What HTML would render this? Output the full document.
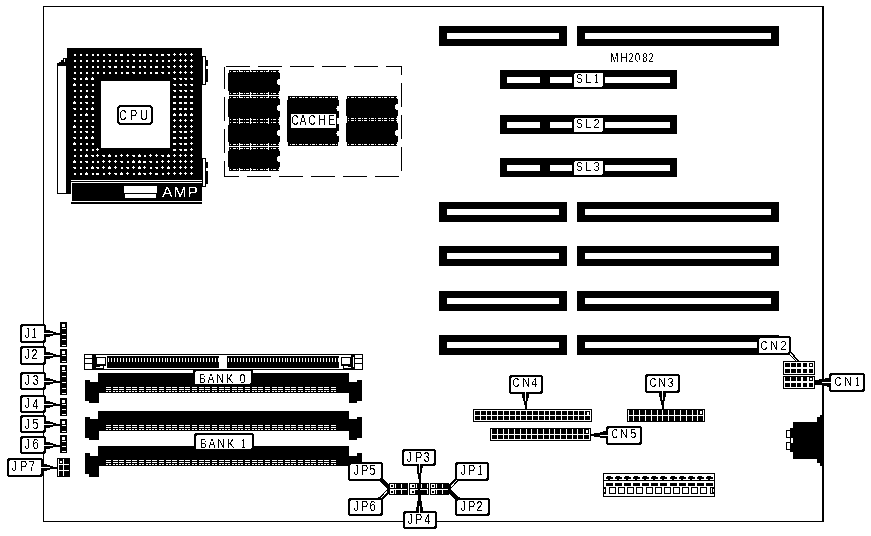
<!DOCTYPE html><html><head><meta charset="utf-8"><style>
html,body{margin:0;padding:0;background:#fff;width:871px;height:536px;overflow:hidden}
svg{display:block;font-family:"Liberation Sans",sans-serif}
</style></head><body>
<svg width="871" height="536" viewBox="0 0 871 536">
<g shape-rendering="crispEdges">
<rect x="43" y="6" width="781" height="1" fill="#000"/>
<rect x="43" y="6" width="1" height="516" fill="#000"/>
<rect x="43" y="521" width="781" height="1" fill="#000"/>
<rect x="822" y="6" width="2" height="516" fill="#000"/>
<rect x="57" y="64" width="10" height="130" fill="#000"/>
<rect x="58" y="66" width="8" height="127" fill="#fff"/>
<rect x="57" y="63" width="3" height="2" fill="#000"/>
<rect x="59" y="62" width="3" height="2" fill="#000"/>
<rect x="61" y="60" width="3" height="4" fill="#000"/>
<rect x="63" y="58" width="4" height="6" fill="#000"/>
<rect x="64" y="59" width="1" height="3" fill="#fff"/>
<rect x="66" y="58" width="1" height="136" fill="#000"/>
<rect x="67" y="48" width="4" height="146" fill="#000"/>
<rect x="67" y="48" width="135" height="132" fill="#000"/>
<rect x="101" y="81" width="69" height="67" fill="#fff"/>
<rect x="74" y="54" width="2" height="2" fill="#fff"/>
<rect x="80" y="54" width="2" height="2" fill="#fff"/>
<rect x="86" y="54" width="2" height="2" fill="#fff"/>
<rect x="92" y="54" width="2" height="2" fill="#fff"/>
<rect x="97" y="54" width="2" height="2" fill="#fff"/>
<rect x="103" y="54" width="2" height="2" fill="#fff"/>
<rect x="108" y="54" width="3" height="1" fill="#fff"/>
<rect x="109" y="55" width="2" height="1" fill="#fff"/>
<rect x="115" y="54" width="2" height="2" fill="#fff"/>
<rect x="120" y="54" width="3" height="2" fill="#fff"/>
<rect x="127" y="54" width="2" height="2" fill="#fff"/>
<rect x="132" y="54" width="3" height="1" fill="#fff"/>
<rect x="133" y="55" width="2" height="1" fill="#fff"/>
<rect x="139" y="54" width="2" height="2" fill="#fff"/>
<rect x="143" y="54" width="3" height="2" fill="#fff"/>
<rect x="149" y="54" width="3" height="1" fill="#fff"/>
<rect x="150" y="55" width="2" height="1" fill="#fff"/>
<rect x="156" y="54" width="2" height="2" fill="#fff"/>
<rect x="161" y="54" width="3" height="2" fill="#fff"/>
<rect x="167" y="54" width="3" height="1" fill="#fff"/>
<rect x="168" y="55" width="2" height="1" fill="#fff"/>
<rect x="173" y="54" width="3" height="1" fill="#fff"/>
<rect x="174" y="53" width="1" height="3" fill="#fff"/>
<rect x="179" y="54" width="3" height="1" fill="#fff"/>
<rect x="180" y="53" width="1" height="3" fill="#fff"/>
<rect x="184" y="54" width="3" height="1" fill="#fff"/>
<rect x="185" y="53" width="1" height="3" fill="#fff"/>
<rect x="190" y="54" width="3" height="1" fill="#fff"/>
<rect x="191" y="53" width="1" height="3" fill="#fff"/>
<rect x="74" y="60" width="2" height="2" fill="#fff"/>
<rect x="80" y="60" width="2" height="2" fill="#fff"/>
<rect x="86" y="60" width="2" height="2" fill="#fff"/>
<rect x="92" y="60" width="2" height="2" fill="#fff"/>
<rect x="97" y="60" width="2" height="2" fill="#fff"/>
<rect x="103" y="60" width="2" height="2" fill="#fff"/>
<rect x="109" y="60" width="2" height="2" fill="#fff"/>
<rect x="115" y="60" width="2" height="2" fill="#fff"/>
<rect x="121" y="60" width="2" height="2" fill="#fff"/>
<rect x="127" y="60" width="2" height="2" fill="#fff"/>
<rect x="133" y="60" width="2" height="2" fill="#fff"/>
<rect x="139" y="60" width="2" height="2" fill="#fff"/>
<rect x="144" y="60" width="2" height="2" fill="#fff"/>
<rect x="150" y="60" width="2" height="2" fill="#fff"/>
<rect x="156" y="60" width="2" height="2" fill="#fff"/>
<rect x="162" y="60" width="2" height="2" fill="#fff"/>
<rect x="168" y="60" width="2" height="2" fill="#fff"/>
<rect x="173" y="60" width="3" height="1" fill="#fff"/>
<rect x="174" y="59" width="1" height="3" fill="#fff"/>
<rect x="179" y="60" width="3" height="1" fill="#fff"/>
<rect x="180" y="59" width="1" height="3" fill="#fff"/>
<rect x="184" y="60" width="3" height="1" fill="#fff"/>
<rect x="185" y="59" width="1" height="3" fill="#fff"/>
<rect x="190" y="60" width="3" height="1" fill="#fff"/>
<rect x="191" y="59" width="1" height="3" fill="#fff"/>
<rect x="74" y="66" width="2" height="2" fill="#fff"/>
<rect x="80" y="66" width="2" height="2" fill="#fff"/>
<rect x="86" y="66" width="2" height="2" fill="#fff"/>
<rect x="92" y="66" width="2" height="2" fill="#fff"/>
<rect x="97" y="66" width="2" height="2" fill="#fff"/>
<rect x="103" y="66" width="2" height="2" fill="#fff"/>
<rect x="108" y="66" width="3" height="1" fill="#fff"/>
<rect x="109" y="67" width="2" height="1" fill="#fff"/>
<rect x="114" y="66" width="3" height="2" fill="#fff"/>
<rect x="121" y="66" width="2" height="2" fill="#fff"/>
<rect x="126" y="66" width="3" height="1" fill="#fff"/>
<rect x="127" y="67" width="2" height="1" fill="#fff"/>
<rect x="132" y="66" width="3" height="2" fill="#fff"/>
<rect x="139" y="66" width="2" height="2" fill="#fff"/>
<rect x="143" y="66" width="3" height="1" fill="#fff"/>
<rect x="144" y="67" width="2" height="1" fill="#fff"/>
<rect x="150" y="66" width="2" height="2" fill="#fff"/>
<rect x="155" y="66" width="3" height="2" fill="#fff"/>
<rect x="162" y="66" width="2" height="2" fill="#fff"/>
<rect x="167" y="66" width="3" height="1" fill="#fff"/>
<rect x="168" y="67" width="2" height="1" fill="#fff"/>
<rect x="173" y="66" width="3" height="1" fill="#fff"/>
<rect x="174" y="65" width="1" height="3" fill="#fff"/>
<rect x="179" y="66" width="3" height="1" fill="#fff"/>
<rect x="180" y="65" width="1" height="3" fill="#fff"/>
<rect x="184" y="66" width="3" height="1" fill="#fff"/>
<rect x="185" y="65" width="1" height="3" fill="#fff"/>
<rect x="190" y="66" width="3" height="1" fill="#fff"/>
<rect x="191" y="65" width="1" height="3" fill="#fff"/>
<rect x="74" y="72" width="2" height="2" fill="#fff"/>
<rect x="80" y="72" width="2" height="2" fill="#fff"/>
<rect x="86" y="72" width="2" height="2" fill="#fff"/>
<rect x="92" y="72" width="2" height="2" fill="#fff"/>
<rect x="97" y="72" width="2" height="2" fill="#fff"/>
<rect x="103" y="72" width="2" height="2" fill="#fff"/>
<rect x="109" y="72" width="2" height="2" fill="#fff"/>
<rect x="115" y="72" width="2" height="2" fill="#fff"/>
<rect x="121" y="72" width="2" height="2" fill="#fff"/>
<rect x="126" y="72" width="3" height="2" fill="#fff"/>
<rect x="132" y="72" width="3" height="1" fill="#fff"/>
<rect x="133" y="73" width="2" height="1" fill="#fff"/>
<rect x="139" y="72" width="2" height="2" fill="#fff"/>
<rect x="144" y="72" width="2" height="2" fill="#fff"/>
<rect x="150" y="72" width="2" height="2" fill="#fff"/>
<rect x="155" y="72" width="3" height="2" fill="#fff"/>
<rect x="161" y="72" width="3" height="1" fill="#fff"/>
<rect x="162" y="73" width="2" height="1" fill="#fff"/>
<rect x="168" y="72" width="2" height="2" fill="#fff"/>
<rect x="173" y="72" width="3" height="1" fill="#fff"/>
<rect x="174" y="71" width="1" height="3" fill="#fff"/>
<rect x="179" y="72" width="3" height="1" fill="#fff"/>
<rect x="180" y="71" width="1" height="3" fill="#fff"/>
<rect x="184" y="72" width="3" height="1" fill="#fff"/>
<rect x="185" y="71" width="1" height="3" fill="#fff"/>
<rect x="190" y="72" width="3" height="1" fill="#fff"/>
<rect x="191" y="71" width="1" height="3" fill="#fff"/>
<rect x="73" y="78" width="3" height="1" fill="#fff"/>
<rect x="74" y="79" width="2" height="1" fill="#fff"/>
<rect x="80" y="78" width="2" height="2" fill="#fff"/>
<rect x="86" y="77" width="1" height="1" fill="#fff"/>
<rect x="85" y="78" width="3" height="2" fill="#fff"/>
<rect x="92" y="77" width="1" height="1" fill="#fff"/>
<rect x="91" y="78" width="3" height="2" fill="#fff"/>
<rect x="173" y="78" width="3" height="1" fill="#fff"/>
<rect x="174" y="79" width="2" height="1" fill="#fff"/>
<rect x="179" y="78" width="3" height="1" fill="#fff"/>
<rect x="180" y="79" width="2" height="1" fill="#fff"/>
<rect x="184" y="78" width="3" height="1" fill="#fff"/>
<rect x="185" y="79" width="2" height="1" fill="#fff"/>
<rect x="190" y="78" width="3" height="1" fill="#fff"/>
<rect x="191" y="79" width="2" height="1" fill="#fff"/>
<rect x="74" y="83" width="1" height="1" fill="#fff"/>
<rect x="73" y="84" width="3" height="2" fill="#fff"/>
<rect x="80" y="84" width="2" height="2" fill="#fff"/>
<rect x="86" y="84" width="2" height="2" fill="#fff"/>
<rect x="92" y="84" width="2" height="2" fill="#fff"/>
<rect x="173" y="84" width="3" height="1" fill="#fff"/>
<rect x="174" y="85" width="2" height="1" fill="#fff"/>
<rect x="179" y="84" width="3" height="1" fill="#fff"/>
<rect x="180" y="85" width="2" height="1" fill="#fff"/>
<rect x="184" y="84" width="3" height="1" fill="#fff"/>
<rect x="185" y="85" width="2" height="1" fill="#fff"/>
<rect x="190" y="84" width="3" height="1" fill="#fff"/>
<rect x="191" y="85" width="2" height="1" fill="#fff"/>
<rect x="74" y="90" width="2" height="2" fill="#fff"/>
<rect x="80" y="90" width="2" height="2" fill="#fff"/>
<rect x="86" y="90" width="2" height="2" fill="#fff"/>
<rect x="92" y="90" width="2" height="2" fill="#fff"/>
<rect x="173" y="90" width="3" height="1" fill="#fff"/>
<rect x="174" y="91" width="2" height="1" fill="#fff"/>
<rect x="179" y="90" width="3" height="1" fill="#fff"/>
<rect x="180" y="91" width="2" height="1" fill="#fff"/>
<rect x="184" y="90" width="3" height="1" fill="#fff"/>
<rect x="185" y="91" width="2" height="1" fill="#fff"/>
<rect x="190" y="90" width="3" height="1" fill="#fff"/>
<rect x="191" y="91" width="2" height="1" fill="#fff"/>
<rect x="74" y="96" width="2" height="2" fill="#fff"/>
<rect x="80" y="96" width="2" height="2" fill="#fff"/>
<rect x="86" y="95" width="1" height="1" fill="#fff"/>
<rect x="85" y="96" width="3" height="2" fill="#fff"/>
<rect x="91" y="96" width="3" height="1" fill="#fff"/>
<rect x="92" y="97" width="2" height="1" fill="#fff"/>
<rect x="173" y="96" width="3" height="2" fill="#fff"/>
<rect x="179" y="96" width="3" height="2" fill="#fff"/>
<rect x="184" y="96" width="3" height="2" fill="#fff"/>
<rect x="190" y="96" width="3" height="2" fill="#fff"/>
<rect x="74" y="101" width="1" height="1" fill="#fff"/>
<rect x="73" y="102" width="3" height="2" fill="#fff"/>
<rect x="80" y="102" width="2" height="2" fill="#fff"/>
<rect x="85" y="102" width="3" height="1" fill="#fff"/>
<rect x="86" y="103" width="2" height="1" fill="#fff"/>
<rect x="92" y="102" width="2" height="2" fill="#fff"/>
<rect x="173" y="102" width="3" height="2" fill="#fff"/>
<rect x="179" y="102" width="3" height="2" fill="#fff"/>
<rect x="184" y="102" width="3" height="2" fill="#fff"/>
<rect x="190" y="102" width="3" height="2" fill="#fff"/>
<rect x="73" y="108" width="3" height="1" fill="#fff"/>
<rect x="74" y="109" width="2" height="1" fill="#fff"/>
<rect x="80" y="108" width="2" height="2" fill="#fff"/>
<rect x="86" y="108" width="2" height="2" fill="#fff"/>
<rect x="92" y="107" width="1" height="1" fill="#fff"/>
<rect x="91" y="108" width="3" height="2" fill="#fff"/>
<rect x="173" y="108" width="3" height="2" fill="#fff"/>
<rect x="179" y="108" width="3" height="2" fill="#fff"/>
<rect x="184" y="108" width="3" height="2" fill="#fff"/>
<rect x="190" y="108" width="3" height="2" fill="#fff"/>
<rect x="74" y="114" width="2" height="2" fill="#fff"/>
<rect x="80" y="114" width="2" height="2" fill="#fff"/>
<rect x="86" y="113" width="1" height="1" fill="#fff"/>
<rect x="85" y="114" width="3" height="2" fill="#fff"/>
<rect x="92" y="114" width="2" height="2" fill="#fff"/>
<rect x="174" y="113" width="1" height="1" fill="#fff"/>
<rect x="173" y="114" width="3" height="2" fill="#fff"/>
<rect x="180" y="113" width="1" height="1" fill="#fff"/>
<rect x="179" y="114" width="3" height="2" fill="#fff"/>
<rect x="185" y="113" width="1" height="1" fill="#fff"/>
<rect x="184" y="114" width="3" height="2" fill="#fff"/>
<rect x="191" y="113" width="1" height="1" fill="#fff"/>
<rect x="190" y="114" width="3" height="2" fill="#fff"/>
<rect x="74" y="120" width="2" height="2" fill="#fff"/>
<rect x="80" y="120" width="2" height="2" fill="#fff"/>
<rect x="86" y="120" width="2" height="2" fill="#fff"/>
<rect x="92" y="120" width="2" height="2" fill="#fff"/>
<rect x="173" y="120" width="3" height="1" fill="#fff"/>
<rect x="174" y="119" width="1" height="3" fill="#fff"/>
<rect x="179" y="120" width="3" height="1" fill="#fff"/>
<rect x="180" y="119" width="1" height="3" fill="#fff"/>
<rect x="184" y="120" width="3" height="1" fill="#fff"/>
<rect x="185" y="119" width="1" height="3" fill="#fff"/>
<rect x="190" y="120" width="3" height="1" fill="#fff"/>
<rect x="191" y="119" width="1" height="3" fill="#fff"/>
<rect x="74" y="125" width="1" height="1" fill="#fff"/>
<rect x="73" y="126" width="3" height="2" fill="#fff"/>
<rect x="80" y="126" width="2" height="2" fill="#fff"/>
<rect x="86" y="126" width="2" height="2" fill="#fff"/>
<rect x="91" y="126" width="3" height="1" fill="#fff"/>
<rect x="92" y="127" width="2" height="1" fill="#fff"/>
<rect x="173" y="126" width="3" height="1" fill="#fff"/>
<rect x="174" y="125" width="1" height="3" fill="#fff"/>
<rect x="179" y="126" width="3" height="1" fill="#fff"/>
<rect x="180" y="125" width="1" height="3" fill="#fff"/>
<rect x="184" y="126" width="3" height="1" fill="#fff"/>
<rect x="185" y="125" width="1" height="3" fill="#fff"/>
<rect x="190" y="126" width="3" height="1" fill="#fff"/>
<rect x="191" y="125" width="1" height="3" fill="#fff"/>
<rect x="74" y="131" width="2" height="2" fill="#fff"/>
<rect x="80" y="131" width="2" height="2" fill="#fff"/>
<rect x="85" y="131" width="3" height="1" fill="#fff"/>
<rect x="86" y="132" width="2" height="1" fill="#fff"/>
<rect x="92" y="131" width="2" height="2" fill="#fff"/>
<rect x="173" y="131" width="3" height="2" fill="#fff"/>
<rect x="179" y="131" width="3" height="1" fill="#fff"/>
<rect x="180" y="132" width="2" height="1" fill="#fff"/>
<rect x="184" y="131" width="3" height="2" fill="#fff"/>
<rect x="190" y="131" width="3" height="1" fill="#fff"/>
<rect x="191" y="130" width="1" height="3" fill="#fff"/>
<rect x="73" y="137" width="3" height="1" fill="#fff"/>
<rect x="74" y="138" width="2" height="1" fill="#fff"/>
<rect x="80" y="137" width="2" height="2" fill="#fff"/>
<rect x="86" y="136" width="1" height="1" fill="#fff"/>
<rect x="85" y="137" width="3" height="2" fill="#fff"/>
<rect x="92" y="136" width="1" height="1" fill="#fff"/>
<rect x="91" y="137" width="3" height="2" fill="#fff"/>
<rect x="173" y="137" width="3" height="2" fill="#fff"/>
<rect x="179" y="137" width="3" height="1" fill="#fff"/>
<rect x="180" y="138" width="2" height="1" fill="#fff"/>
<rect x="184" y="137" width="3" height="2" fill="#fff"/>
<rect x="190" y="137" width="3" height="1" fill="#fff"/>
<rect x="191" y="136" width="1" height="3" fill="#fff"/>
<rect x="74" y="142" width="1" height="1" fill="#fff"/>
<rect x="73" y="143" width="3" height="2" fill="#fff"/>
<rect x="80" y="143" width="2" height="2" fill="#fff"/>
<rect x="86" y="143" width="2" height="2" fill="#fff"/>
<rect x="92" y="143" width="2" height="2" fill="#fff"/>
<rect x="173" y="143" width="3" height="2" fill="#fff"/>
<rect x="179" y="143" width="3" height="1" fill="#fff"/>
<rect x="180" y="144" width="2" height="1" fill="#fff"/>
<rect x="184" y="143" width="3" height="2" fill="#fff"/>
<rect x="190" y="143" width="3" height="1" fill="#fff"/>
<rect x="191" y="142" width="1" height="3" fill="#fff"/>
<rect x="74" y="149" width="2" height="2" fill="#fff"/>
<rect x="80" y="149" width="2" height="2" fill="#fff"/>
<rect x="86" y="149" width="2" height="2" fill="#fff"/>
<rect x="92" y="149" width="2" height="2" fill="#fff"/>
<rect x="96" y="149" width="3" height="1" fill="#fff"/>
<rect x="97" y="148" width="1" height="3" fill="#fff"/>
<rect x="173" y="149" width="3" height="2" fill="#fff"/>
<rect x="179" y="149" width="3" height="1" fill="#fff"/>
<rect x="180" y="150" width="2" height="1" fill="#fff"/>
<rect x="184" y="149" width="3" height="2" fill="#fff"/>
<rect x="190" y="149" width="3" height="1" fill="#fff"/>
<rect x="191" y="148" width="1" height="3" fill="#fff"/>
<rect x="74" y="155" width="2" height="2" fill="#fff"/>
<rect x="80" y="155" width="2" height="2" fill="#fff"/>
<rect x="86" y="154" width="1" height="1" fill="#fff"/>
<rect x="85" y="155" width="3" height="2" fill="#fff"/>
<rect x="91" y="155" width="3" height="1" fill="#fff"/>
<rect x="92" y="156" width="2" height="1" fill="#fff"/>
<rect x="96" y="155" width="3" height="1" fill="#fff"/>
<rect x="97" y="154" width="1" height="3" fill="#fff"/>
<rect x="102" y="155" width="3" height="1" fill="#fff"/>
<rect x="103" y="156" width="2" height="1" fill="#fff"/>
<rect x="109" y="154" width="1" height="1" fill="#fff"/>
<rect x="108" y="155" width="3" height="2" fill="#fff"/>
<rect x="115" y="155" width="2" height="2" fill="#fff"/>
<rect x="120" y="155" width="3" height="1" fill="#fff"/>
<rect x="121" y="154" width="1" height="3" fill="#fff"/>
<rect x="126" y="155" width="3" height="1" fill="#fff"/>
<rect x="127" y="154" width="1" height="3" fill="#fff"/>
<rect x="132" y="155" width="3" height="1" fill="#fff"/>
<rect x="133" y="156" width="2" height="1" fill="#fff"/>
<rect x="139" y="154" width="1" height="1" fill="#fff"/>
<rect x="138" y="155" width="3" height="2" fill="#fff"/>
<rect x="144" y="155" width="2" height="2" fill="#fff"/>
<rect x="149" y="155" width="3" height="1" fill="#fff"/>
<rect x="150" y="154" width="1" height="3" fill="#fff"/>
<rect x="155" y="155" width="3" height="1" fill="#fff"/>
<rect x="156" y="154" width="1" height="3" fill="#fff"/>
<rect x="161" y="155" width="3" height="1" fill="#fff"/>
<rect x="162" y="156" width="2" height="1" fill="#fff"/>
<rect x="168" y="154" width="1" height="1" fill="#fff"/>
<rect x="167" y="155" width="3" height="2" fill="#fff"/>
<rect x="173" y="155" width="3" height="1" fill="#fff"/>
<rect x="174" y="154" width="1" height="3" fill="#fff"/>
<rect x="179" y="155" width="3" height="1" fill="#fff"/>
<rect x="180" y="154" width="1" height="3" fill="#fff"/>
<rect x="184" y="155" width="3" height="1" fill="#fff"/>
<rect x="185" y="154" width="1" height="3" fill="#fff"/>
<rect x="190" y="155" width="3" height="1" fill="#fff"/>
<rect x="191" y="154" width="1" height="3" fill="#fff"/>
<rect x="74" y="160" width="1" height="1" fill="#fff"/>
<rect x="73" y="161" width="3" height="2" fill="#fff"/>
<rect x="80" y="161" width="2" height="2" fill="#fff"/>
<rect x="85" y="161" width="3" height="1" fill="#fff"/>
<rect x="86" y="162" width="2" height="1" fill="#fff"/>
<rect x="92" y="161" width="2" height="2" fill="#fff"/>
<rect x="97" y="161" width="2" height="2" fill="#fff"/>
<rect x="102" y="161" width="3" height="1" fill="#fff"/>
<rect x="103" y="160" width="1" height="3" fill="#fff"/>
<rect x="108" y="161" width="3" height="1" fill="#fff"/>
<rect x="109" y="160" width="1" height="3" fill="#fff"/>
<rect x="114" y="161" width="3" height="1" fill="#fff"/>
<rect x="115" y="160" width="1" height="3" fill="#fff"/>
<rect x="120" y="161" width="3" height="1" fill="#fff"/>
<rect x="121" y="162" width="2" height="1" fill="#fff"/>
<rect x="127" y="161" width="2" height="2" fill="#fff"/>
<rect x="133" y="160" width="1" height="1" fill="#fff"/>
<rect x="132" y="161" width="3" height="2" fill="#fff"/>
<rect x="139" y="160" width="1" height="1" fill="#fff"/>
<rect x="138" y="161" width="3" height="2" fill="#fff"/>
<rect x="143" y="161" width="3" height="2" fill="#fff"/>
<rect x="149" y="161" width="3" height="1" fill="#fff"/>
<rect x="150" y="162" width="2" height="1" fill="#fff"/>
<rect x="156" y="161" width="2" height="2" fill="#fff"/>
<rect x="161" y="161" width="3" height="1" fill="#fff"/>
<rect x="162" y="160" width="1" height="3" fill="#fff"/>
<rect x="167" y="161" width="3" height="1" fill="#fff"/>
<rect x="168" y="160" width="1" height="3" fill="#fff"/>
<rect x="173" y="161" width="3" height="1" fill="#fff"/>
<rect x="174" y="160" width="1" height="3" fill="#fff"/>
<rect x="179" y="161" width="3" height="1" fill="#fff"/>
<rect x="180" y="160" width="1" height="3" fill="#fff"/>
<rect x="184" y="161" width="3" height="1" fill="#fff"/>
<rect x="185" y="160" width="1" height="3" fill="#fff"/>
<rect x="190" y="161" width="3" height="1" fill="#fff"/>
<rect x="191" y="160" width="1" height="3" fill="#fff"/>
<rect x="73" y="167" width="3" height="1" fill="#fff"/>
<rect x="74" y="168" width="2" height="1" fill="#fff"/>
<rect x="80" y="167" width="2" height="2" fill="#fff"/>
<rect x="86" y="167" width="2" height="2" fill="#fff"/>
<rect x="92" y="166" width="1" height="1" fill="#fff"/>
<rect x="91" y="167" width="3" height="2" fill="#fff"/>
<rect x="96" y="167" width="3" height="1" fill="#fff"/>
<rect x="97" y="168" width="2" height="1" fill="#fff"/>
<rect x="102" y="167" width="3" height="1" fill="#fff"/>
<rect x="103" y="166" width="1" height="3" fill="#fff"/>
<rect x="109" y="166" width="1" height="1" fill="#fff"/>
<rect x="108" y="167" width="3" height="2" fill="#fff"/>
<rect x="114" y="167" width="3" height="1" fill="#fff"/>
<rect x="115" y="166" width="1" height="3" fill="#fff"/>
<rect x="121" y="167" width="2" height="2" fill="#fff"/>
<rect x="126" y="167" width="3" height="1" fill="#fff"/>
<rect x="127" y="168" width="2" height="1" fill="#fff"/>
<rect x="132" y="167" width="3" height="1" fill="#fff"/>
<rect x="133" y="166" width="1" height="3" fill="#fff"/>
<rect x="139" y="166" width="1" height="1" fill="#fff"/>
<rect x="138" y="167" width="3" height="2" fill="#fff"/>
<rect x="143" y="167" width="3" height="1" fill="#fff"/>
<rect x="144" y="166" width="1" height="3" fill="#fff"/>
<rect x="150" y="167" width="2" height="2" fill="#fff"/>
<rect x="155" y="167" width="3" height="1" fill="#fff"/>
<rect x="156" y="168" width="2" height="1" fill="#fff"/>
<rect x="161" y="167" width="3" height="1" fill="#fff"/>
<rect x="162" y="166" width="1" height="3" fill="#fff"/>
<rect x="168" y="166" width="1" height="1" fill="#fff"/>
<rect x="167" y="167" width="3" height="2" fill="#fff"/>
<rect x="173" y="167" width="3" height="1" fill="#fff"/>
<rect x="174" y="166" width="1" height="3" fill="#fff"/>
<rect x="179" y="167" width="3" height="1" fill="#fff"/>
<rect x="180" y="166" width="1" height="3" fill="#fff"/>
<rect x="184" y="167" width="3" height="1" fill="#fff"/>
<rect x="185" y="166" width="1" height="3" fill="#fff"/>
<rect x="190" y="167" width="3" height="1" fill="#fff"/>
<rect x="191" y="166" width="1" height="3" fill="#fff"/>
<rect x="74" y="173" width="2" height="2" fill="#fff"/>
<rect x="80" y="173" width="2" height="2" fill="#fff"/>
<rect x="86" y="172" width="1" height="1" fill="#fff"/>
<rect x="85" y="173" width="3" height="2" fill="#fff"/>
<rect x="92" y="173" width="2" height="2" fill="#fff"/>
<rect x="96" y="173" width="3" height="2" fill="#fff"/>
<rect x="103" y="173" width="2" height="2" fill="#fff"/>
<rect x="108" y="173" width="3" height="1" fill="#fff"/>
<rect x="109" y="172" width="1" height="3" fill="#fff"/>
<rect x="114" y="173" width="3" height="1" fill="#fff"/>
<rect x="115" y="174" width="2" height="1" fill="#fff"/>
<rect x="121" y="172" width="1" height="1" fill="#fff"/>
<rect x="120" y="173" width="3" height="2" fill="#fff"/>
<rect x="126" y="173" width="3" height="1" fill="#fff"/>
<rect x="127" y="172" width="1" height="3" fill="#fff"/>
<rect x="133" y="173" width="2" height="2" fill="#fff"/>
<rect x="139" y="172" width="1" height="1" fill="#fff"/>
<rect x="138" y="173" width="3" height="2" fill="#fff"/>
<rect x="143" y="173" width="3" height="1" fill="#fff"/>
<rect x="144" y="174" width="2" height="1" fill="#fff"/>
<rect x="149" y="173" width="3" height="1" fill="#fff"/>
<rect x="150" y="172" width="1" height="3" fill="#fff"/>
<rect x="155" y="173" width="3" height="2" fill="#fff"/>
<rect x="162" y="173" width="2" height="2" fill="#fff"/>
<rect x="167" y="173" width="3" height="1" fill="#fff"/>
<rect x="168" y="172" width="1" height="3" fill="#fff"/>
<rect x="173" y="173" width="3" height="1" fill="#fff"/>
<rect x="174" y="172" width="1" height="3" fill="#fff"/>
<rect x="179" y="173" width="3" height="1" fill="#fff"/>
<rect x="180" y="172" width="1" height="3" fill="#fff"/>
<rect x="184" y="173" width="3" height="1" fill="#fff"/>
<rect x="185" y="172" width="1" height="3" fill="#fff"/>
<rect x="190" y="173" width="3" height="1" fill="#fff"/>
<rect x="191" y="172" width="1" height="3" fill="#fff"/>
<rect x="202" y="56" width="4" height="29" fill="#000"/>
<rect x="203" y="57" width="2" height="27" fill="#fff"/>
<rect x="206" y="60" width="2" height="6" fill="#000"/>
<rect x="206" y="69" width="2" height="13" fill="#000"/>
<rect x="202" y="158" width="4" height="29" fill="#000"/>
<rect x="203" y="159" width="2" height="27" fill="#fff"/>
<rect x="206" y="162" width="2" height="6" fill="#000"/>
<rect x="206" y="171" width="2" height="13" fill="#000"/>
<rect x="71" y="180" width="131" height="1" fill="#fff"/>
<rect x="71" y="181" width="131" height="1" fill="#000"/>
<rect x="71" y="182" width="131" height="1" fill="#fff"/>
<rect x="72" y="183" width="130" height="18" fill="#000"/>
<rect x="71" y="201" width="131" height="1" fill="#fff"/>
<rect x="71" y="202" width="131" height="2" fill="#000"/>
<rect x="124" y="186" width="33" height="7" fill="#fff"/>
<rect x="125" y="194" width="31" height="4" fill="#fff"/>
<rect x="117" y="105" width="36" height="20" rx="4" ry="4" fill="#000"/>
<rect x="119" y="107" width="32" height="16" rx="3" ry="3" fill="#fff"/>
<rect x="226" y="66" width="24" height="1" fill="#000"/>
<rect x="258" y="66" width="24" height="1" fill="#000"/>
<rect x="290" y="66" width="24" height="1" fill="#000"/>
<rect x="322" y="66" width="24" height="1" fill="#000"/>
<rect x="354" y="66" width="24" height="1" fill="#000"/>
<rect x="386" y="66" width="16" height="1" fill="#000"/>
<rect x="224" y="176" width="15" height="1" fill="#000"/>
<rect x="247" y="176" width="24" height="1" fill="#000"/>
<rect x="279" y="176" width="24" height="1" fill="#000"/>
<rect x="311" y="176" width="24" height="1" fill="#000"/>
<rect x="343" y="176" width="24" height="1" fill="#000"/>
<rect x="375" y="176" width="24" height="1" fill="#000"/>
<rect x="401" y="66" width="1" height="9" fill="#000"/>
<rect x="401" y="83" width="1" height="24" fill="#000"/>
<rect x="401" y="115" width="1" height="24" fill="#000"/>
<rect x="401" y="147" width="1" height="24" fill="#000"/>
<rect x="224" y="67" width="1" height="22" fill="#000"/>
<rect x="224" y="97" width="1" height="24" fill="#000"/>
<rect x="224" y="129" width="1" height="24" fill="#000"/>
<rect x="224" y="161" width="1" height="16" fill="#000"/>
<rect x="229" y="70" width="50" height="2" fill="#000"/>
<rect x="230" y="71" width="1" height="1" fill="#fff"/>
<rect x="233" y="71" width="3" height="1" fill="#fff"/>
<rect x="237" y="71" width="1" height="1" fill="#fff"/>
<rect x="240" y="71" width="3" height="1" fill="#fff"/>
<rect x="244" y="71" width="1" height="1" fill="#fff"/>
<rect x="246" y="71" width="3" height="1" fill="#fff"/>
<rect x="251" y="71" width="1" height="1" fill="#fff"/>
<rect x="253" y="71" width="3" height="1" fill="#fff"/>
<rect x="257" y="71" width="1" height="1" fill="#fff"/>
<rect x="260" y="71" width="3" height="1" fill="#fff"/>
<rect x="264" y="71" width="1" height="1" fill="#fff"/>
<rect x="266" y="71" width="3" height="1" fill="#fff"/>
<rect x="271" y="71" width="1" height="1" fill="#fff"/>
<rect x="273" y="71" width="3" height="1" fill="#fff"/>
<rect x="278" y="71" width="1" height="1" fill="#fff"/>
<rect x="228" y="72" width="52" height="20" fill="#000"/>
<rect x="229" y="92" width="50" height="3" fill="#000"/>
<rect x="230" y="93" width="1" height="1" fill="#fff"/>
<rect x="233" y="93" width="3" height="1" fill="#fff"/>
<rect x="237" y="93" width="1" height="1" fill="#fff"/>
<rect x="240" y="93" width="3" height="1" fill="#fff"/>
<rect x="244" y="93" width="1" height="1" fill="#fff"/>
<rect x="246" y="93" width="3" height="1" fill="#fff"/>
<rect x="251" y="93" width="1" height="1" fill="#fff"/>
<rect x="253" y="93" width="3" height="1" fill="#fff"/>
<rect x="257" y="93" width="1" height="1" fill="#fff"/>
<rect x="260" y="93" width="3" height="1" fill="#fff"/>
<rect x="264" y="93" width="1" height="1" fill="#fff"/>
<rect x="266" y="93" width="3" height="1" fill="#fff"/>
<rect x="271" y="93" width="1" height="1" fill="#fff"/>
<rect x="273" y="93" width="3" height="1" fill="#fff"/>
<rect x="278" y="93" width="1" height="1" fill="#fff"/>
<rect x="228" y="72" width="1" height="1" fill="#fff"/>
<rect x="279" y="72" width="1" height="1" fill="#fff"/>
<rect x="228" y="91" width="1" height="1" fill="#fff"/>
<rect x="279" y="91" width="1" height="1" fill="#fff"/>
<path d="M280,79 A3,3 0 0 0 280,85 Z" fill="#fff" />
<rect x="229" y="96" width="50" height="2" fill="#000"/>
<rect x="230" y="97" width="1" height="1" fill="#fff"/>
<rect x="233" y="97" width="3" height="1" fill="#fff"/>
<rect x="237" y="97" width="1" height="1" fill="#fff"/>
<rect x="240" y="97" width="3" height="1" fill="#fff"/>
<rect x="244" y="97" width="1" height="1" fill="#fff"/>
<rect x="246" y="97" width="3" height="1" fill="#fff"/>
<rect x="251" y="97" width="1" height="1" fill="#fff"/>
<rect x="253" y="97" width="3" height="1" fill="#fff"/>
<rect x="257" y="97" width="1" height="1" fill="#fff"/>
<rect x="260" y="97" width="3" height="1" fill="#fff"/>
<rect x="264" y="97" width="1" height="1" fill="#fff"/>
<rect x="266" y="97" width="3" height="1" fill="#fff"/>
<rect x="271" y="97" width="1" height="1" fill="#fff"/>
<rect x="273" y="97" width="3" height="1" fill="#fff"/>
<rect x="278" y="97" width="1" height="1" fill="#fff"/>
<rect x="228" y="98" width="52" height="20" fill="#000"/>
<rect x="229" y="118" width="50" height="3" fill="#000"/>
<rect x="230" y="119" width="1" height="1" fill="#fff"/>
<rect x="233" y="119" width="3" height="1" fill="#fff"/>
<rect x="237" y="119" width="1" height="1" fill="#fff"/>
<rect x="240" y="119" width="3" height="1" fill="#fff"/>
<rect x="244" y="119" width="1" height="1" fill="#fff"/>
<rect x="246" y="119" width="3" height="1" fill="#fff"/>
<rect x="251" y="119" width="1" height="1" fill="#fff"/>
<rect x="253" y="119" width="3" height="1" fill="#fff"/>
<rect x="257" y="119" width="1" height="1" fill="#fff"/>
<rect x="260" y="119" width="3" height="1" fill="#fff"/>
<rect x="264" y="119" width="1" height="1" fill="#fff"/>
<rect x="266" y="119" width="3" height="1" fill="#fff"/>
<rect x="271" y="119" width="1" height="1" fill="#fff"/>
<rect x="273" y="119" width="3" height="1" fill="#fff"/>
<rect x="278" y="119" width="1" height="1" fill="#fff"/>
<rect x="228" y="98" width="1" height="1" fill="#fff"/>
<rect x="279" y="98" width="1" height="1" fill="#fff"/>
<rect x="228" y="117" width="1" height="1" fill="#fff"/>
<rect x="279" y="117" width="1" height="1" fill="#fff"/>
<path d="M280,105 A3,3 0 0 0 280,111 Z" fill="#fff" />
<rect x="229" y="121" width="50" height="3" fill="#000"/>
<rect x="230" y="122" width="1" height="1" fill="#fff"/>
<rect x="233" y="122" width="3" height="1" fill="#fff"/>
<rect x="237" y="122" width="1" height="1" fill="#fff"/>
<rect x="240" y="122" width="3" height="1" fill="#fff"/>
<rect x="244" y="122" width="1" height="1" fill="#fff"/>
<rect x="246" y="122" width="3" height="1" fill="#fff"/>
<rect x="251" y="122" width="1" height="1" fill="#fff"/>
<rect x="253" y="122" width="3" height="1" fill="#fff"/>
<rect x="257" y="122" width="1" height="1" fill="#fff"/>
<rect x="260" y="122" width="3" height="1" fill="#fff"/>
<rect x="264" y="122" width="1" height="1" fill="#fff"/>
<rect x="266" y="122" width="3" height="1" fill="#fff"/>
<rect x="271" y="122" width="1" height="1" fill="#fff"/>
<rect x="273" y="122" width="3" height="1" fill="#fff"/>
<rect x="278" y="122" width="1" height="1" fill="#fff"/>
<rect x="228" y="124" width="52" height="19" fill="#000"/>
<rect x="229" y="143" width="50" height="3" fill="#000"/>
<rect x="230" y="144" width="1" height="1" fill="#fff"/>
<rect x="233" y="144" width="3" height="1" fill="#fff"/>
<rect x="237" y="144" width="1" height="1" fill="#fff"/>
<rect x="240" y="144" width="3" height="1" fill="#fff"/>
<rect x="244" y="144" width="1" height="1" fill="#fff"/>
<rect x="246" y="144" width="3" height="1" fill="#fff"/>
<rect x="251" y="144" width="1" height="1" fill="#fff"/>
<rect x="253" y="144" width="3" height="1" fill="#fff"/>
<rect x="257" y="144" width="1" height="1" fill="#fff"/>
<rect x="260" y="144" width="3" height="1" fill="#fff"/>
<rect x="264" y="144" width="1" height="1" fill="#fff"/>
<rect x="266" y="144" width="3" height="1" fill="#fff"/>
<rect x="271" y="144" width="1" height="1" fill="#fff"/>
<rect x="273" y="144" width="3" height="1" fill="#fff"/>
<rect x="278" y="144" width="1" height="1" fill="#fff"/>
<rect x="228" y="124" width="1" height="1" fill="#fff"/>
<rect x="279" y="124" width="1" height="1" fill="#fff"/>
<rect x="228" y="142" width="1" height="1" fill="#fff"/>
<rect x="279" y="142" width="1" height="1" fill="#fff"/>
<path d="M280,130 A3,3 0 0 0 280,136 Z" fill="#fff" />
<rect x="229" y="147" width="50" height="3" fill="#000"/>
<rect x="230" y="148" width="1" height="1" fill="#fff"/>
<rect x="233" y="148" width="3" height="1" fill="#fff"/>
<rect x="237" y="148" width="1" height="1" fill="#fff"/>
<rect x="240" y="148" width="3" height="1" fill="#fff"/>
<rect x="244" y="148" width="1" height="1" fill="#fff"/>
<rect x="246" y="148" width="3" height="1" fill="#fff"/>
<rect x="251" y="148" width="1" height="1" fill="#fff"/>
<rect x="253" y="148" width="3" height="1" fill="#fff"/>
<rect x="257" y="148" width="1" height="1" fill="#fff"/>
<rect x="260" y="148" width="3" height="1" fill="#fff"/>
<rect x="264" y="148" width="1" height="1" fill="#fff"/>
<rect x="266" y="148" width="3" height="1" fill="#fff"/>
<rect x="271" y="148" width="1" height="1" fill="#fff"/>
<rect x="273" y="148" width="3" height="1" fill="#fff"/>
<rect x="278" y="148" width="1" height="1" fill="#fff"/>
<rect x="228" y="150" width="52" height="18" fill="#000"/>
<rect x="229" y="168" width="50" height="3" fill="#000"/>
<rect x="230" y="169" width="1" height="1" fill="#fff"/>
<rect x="233" y="169" width="3" height="1" fill="#fff"/>
<rect x="237" y="169" width="1" height="1" fill="#fff"/>
<rect x="240" y="169" width="3" height="1" fill="#fff"/>
<rect x="244" y="169" width="1" height="1" fill="#fff"/>
<rect x="246" y="169" width="3" height="1" fill="#fff"/>
<rect x="251" y="169" width="1" height="1" fill="#fff"/>
<rect x="253" y="169" width="3" height="1" fill="#fff"/>
<rect x="257" y="169" width="1" height="1" fill="#fff"/>
<rect x="260" y="169" width="3" height="1" fill="#fff"/>
<rect x="264" y="169" width="1" height="1" fill="#fff"/>
<rect x="266" y="169" width="3" height="1" fill="#fff"/>
<rect x="271" y="169" width="1" height="1" fill="#fff"/>
<rect x="273" y="169" width="3" height="1" fill="#fff"/>
<rect x="278" y="169" width="1" height="1" fill="#fff"/>
<rect x="228" y="150" width="1" height="1" fill="#fff"/>
<rect x="279" y="150" width="1" height="1" fill="#fff"/>
<rect x="228" y="167" width="1" height="1" fill="#fff"/>
<rect x="279" y="167" width="1" height="1" fill="#fff"/>
<path d="M280,156 A3,3 0 0 0 280,162 Z" fill="#fff" />
<rect x="239" y="70" width="1" height="2" fill="#fff"/>
<rect x="250" y="70" width="1" height="2" fill="#fff"/>
<rect x="268" y="70" width="1" height="2" fill="#fff"/>
<rect x="239" y="92" width="1" height="3" fill="#fff"/>
<rect x="250" y="92" width="1" height="3" fill="#fff"/>
<rect x="268" y="92" width="1" height="3" fill="#fff"/>
<rect x="239" y="96" width="1" height="2" fill="#fff"/>
<rect x="250" y="96" width="1" height="2" fill="#fff"/>
<rect x="268" y="96" width="1" height="2" fill="#fff"/>
<rect x="239" y="118" width="1" height="6" fill="#fff"/>
<rect x="250" y="118" width="1" height="6" fill="#fff"/>
<rect x="268" y="118" width="1" height="6" fill="#fff"/>
<rect x="239" y="143" width="1" height="3" fill="#fff"/>
<rect x="250" y="143" width="1" height="3" fill="#fff"/>
<rect x="268" y="143" width="1" height="3" fill="#fff"/>
<rect x="239" y="147" width="1" height="3" fill="#fff"/>
<rect x="250" y="147" width="1" height="3" fill="#fff"/>
<rect x="268" y="147" width="1" height="3" fill="#fff"/>
<rect x="239" y="168" width="1" height="3" fill="#fff"/>
<rect x="250" y="168" width="1" height="3" fill="#fff"/>
<rect x="268" y="168" width="1" height="3" fill="#fff"/>
<rect x="288" y="96" width="50" height="3" fill="#000"/>
<rect x="290" y="97" width="1" height="1" fill="#fff"/>
<rect x="292" y="97" width="3" height="1" fill="#fff"/>
<rect x="296" y="97" width="1" height="1" fill="#fff"/>
<rect x="299" y="97" width="3" height="1" fill="#fff"/>
<rect x="303" y="97" width="1" height="1" fill="#fff"/>
<rect x="305" y="97" width="3" height="1" fill="#fff"/>
<rect x="310" y="97" width="1" height="1" fill="#fff"/>
<rect x="312" y="97" width="3" height="1" fill="#fff"/>
<rect x="316" y="97" width="1" height="1" fill="#fff"/>
<rect x="319" y="97" width="3" height="1" fill="#fff"/>
<rect x="323" y="97" width="1" height="1" fill="#fff"/>
<rect x="325" y="97" width="3" height="1" fill="#fff"/>
<rect x="330" y="97" width="1" height="1" fill="#fff"/>
<rect x="332" y="97" width="3" height="1" fill="#fff"/>
<rect x="336" y="97" width="1" height="1" fill="#fff"/>
<rect x="287" y="99" width="52" height="44" fill="#000"/>
<rect x="288" y="143" width="50" height="3" fill="#000"/>
<rect x="290" y="144" width="1" height="1" fill="#fff"/>
<rect x="292" y="144" width="3" height="1" fill="#fff"/>
<rect x="296" y="144" width="1" height="1" fill="#fff"/>
<rect x="299" y="144" width="3" height="1" fill="#fff"/>
<rect x="303" y="144" width="1" height="1" fill="#fff"/>
<rect x="305" y="144" width="3" height="1" fill="#fff"/>
<rect x="310" y="144" width="1" height="1" fill="#fff"/>
<rect x="312" y="144" width="3" height="1" fill="#fff"/>
<rect x="316" y="144" width="1" height="1" fill="#fff"/>
<rect x="319" y="144" width="3" height="1" fill="#fff"/>
<rect x="323" y="144" width="1" height="1" fill="#fff"/>
<rect x="325" y="144" width="3" height="1" fill="#fff"/>
<rect x="330" y="144" width="1" height="1" fill="#fff"/>
<rect x="332" y="144" width="3" height="1" fill="#fff"/>
<rect x="336" y="144" width="1" height="1" fill="#fff"/>
<rect x="287" y="99" width="1" height="1" fill="#fff"/>
<rect x="338" y="99" width="1" height="1" fill="#fff"/>
<rect x="287" y="142" width="1" height="1" fill="#fff"/>
<rect x="338" y="142" width="1" height="1" fill="#fff"/>
<path d="M339,118 A3,3 0 0 0 339,124 Z" fill="#fff" />
<path d="M339,106 A2.5,2.5 0 0 0 339,111 Z" fill="#fff" />
<path d="M339,131 A2.5,2.5 0 0 0 339,136 Z" fill="#fff" />
<rect x="290" y="113" width="47" height="16" rx="1" ry="1" fill="#000"/>
<rect x="291" y="114" width="45" height="14" rx="0" ry="0" fill="#fff"/>
<rect x="347" y="96" width="50" height="2" fill="#000"/>
<rect x="348" y="97" width="1" height="1" fill="#fff"/>
<rect x="351" y="97" width="3" height="1" fill="#fff"/>
<rect x="355" y="97" width="1" height="1" fill="#fff"/>
<rect x="358" y="97" width="3" height="1" fill="#fff"/>
<rect x="362" y="97" width="1" height="1" fill="#fff"/>
<rect x="364" y="97" width="3" height="1" fill="#fff"/>
<rect x="369" y="97" width="1" height="1" fill="#fff"/>
<rect x="371" y="97" width="3" height="1" fill="#fff"/>
<rect x="375" y="97" width="1" height="1" fill="#fff"/>
<rect x="378" y="97" width="3" height="1" fill="#fff"/>
<rect x="382" y="97" width="1" height="1" fill="#fff"/>
<rect x="384" y="97" width="3" height="1" fill="#fff"/>
<rect x="389" y="97" width="1" height="1" fill="#fff"/>
<rect x="391" y="97" width="3" height="1" fill="#fff"/>
<rect x="396" y="97" width="1" height="1" fill="#fff"/>
<rect x="346" y="98" width="52" height="19" fill="#000"/>
<rect x="347" y="117" width="50" height="2" fill="#000"/>
<rect x="348" y="118" width="1" height="1" fill="#fff"/>
<rect x="351" y="118" width="3" height="1" fill="#fff"/>
<rect x="355" y="118" width="1" height="1" fill="#fff"/>
<rect x="358" y="118" width="3" height="1" fill="#fff"/>
<rect x="362" y="118" width="1" height="1" fill="#fff"/>
<rect x="364" y="118" width="3" height="1" fill="#fff"/>
<rect x="369" y="118" width="1" height="1" fill="#fff"/>
<rect x="371" y="118" width="3" height="1" fill="#fff"/>
<rect x="375" y="118" width="1" height="1" fill="#fff"/>
<rect x="378" y="118" width="3" height="1" fill="#fff"/>
<rect x="382" y="118" width="1" height="1" fill="#fff"/>
<rect x="384" y="118" width="3" height="1" fill="#fff"/>
<rect x="389" y="118" width="1" height="1" fill="#fff"/>
<rect x="391" y="118" width="3" height="1" fill="#fff"/>
<rect x="396" y="118" width="1" height="1" fill="#fff"/>
<rect x="346" y="98" width="1" height="1" fill="#fff"/>
<rect x="397" y="98" width="1" height="1" fill="#fff"/>
<rect x="346" y="116" width="1" height="1" fill="#fff"/>
<rect x="397" y="116" width="1" height="1" fill="#fff"/>
<rect x="347" y="119" width="50" height="3" fill="#000"/>
<rect x="348" y="120" width="1" height="1" fill="#fff"/>
<rect x="351" y="120" width="3" height="1" fill="#fff"/>
<rect x="355" y="120" width="1" height="1" fill="#fff"/>
<rect x="358" y="120" width="3" height="1" fill="#fff"/>
<rect x="362" y="120" width="1" height="1" fill="#fff"/>
<rect x="364" y="120" width="3" height="1" fill="#fff"/>
<rect x="369" y="120" width="1" height="1" fill="#fff"/>
<rect x="371" y="120" width="3" height="1" fill="#fff"/>
<rect x="375" y="120" width="1" height="1" fill="#fff"/>
<rect x="378" y="120" width="3" height="1" fill="#fff"/>
<rect x="382" y="120" width="1" height="1" fill="#fff"/>
<rect x="384" y="120" width="3" height="1" fill="#fff"/>
<rect x="389" y="120" width="1" height="1" fill="#fff"/>
<rect x="391" y="120" width="3" height="1" fill="#fff"/>
<rect x="396" y="120" width="1" height="1" fill="#fff"/>
<rect x="346" y="122" width="52" height="21" fill="#000"/>
<rect x="347" y="143" width="50" height="3" fill="#000"/>
<rect x="348" y="144" width="1" height="1" fill="#fff"/>
<rect x="351" y="144" width="3" height="1" fill="#fff"/>
<rect x="355" y="144" width="1" height="1" fill="#fff"/>
<rect x="358" y="144" width="3" height="1" fill="#fff"/>
<rect x="362" y="144" width="1" height="1" fill="#fff"/>
<rect x="364" y="144" width="3" height="1" fill="#fff"/>
<rect x="369" y="144" width="1" height="1" fill="#fff"/>
<rect x="371" y="144" width="3" height="1" fill="#fff"/>
<rect x="375" y="144" width="1" height="1" fill="#fff"/>
<rect x="378" y="144" width="3" height="1" fill="#fff"/>
<rect x="382" y="144" width="1" height="1" fill="#fff"/>
<rect x="384" y="144" width="3" height="1" fill="#fff"/>
<rect x="389" y="144" width="1" height="1" fill="#fff"/>
<rect x="391" y="144" width="3" height="1" fill="#fff"/>
<rect x="396" y="144" width="1" height="1" fill="#fff"/>
<rect x="346" y="122" width="1" height="1" fill="#fff"/>
<rect x="397" y="122" width="1" height="1" fill="#fff"/>
<rect x="346" y="142" width="1" height="1" fill="#fff"/>
<rect x="397" y="142" width="1" height="1" fill="#fff"/>
<path d="M398,104 A3,3 0 0 0 398,110 Z" fill="#fff" />
<path d="M398,130 A3,3 0 0 0 398,136 Z" fill="#fff" />
<rect x="439" y="26" width="128" height="20" fill="#000"/>
<rect x="447" y="33" width="112" height="6" fill="#fff"/>
<rect x="577" y="26" width="202" height="20" fill="#000"/>
<rect x="585" y="33" width="186" height="6" fill="#fff"/>
<rect x="439" y="202" width="128" height="20" fill="#000"/>
<rect x="447" y="209" width="112" height="6" fill="#fff"/>
<rect x="577" y="202" width="202" height="20" fill="#000"/>
<rect x="585" y="209" width="186" height="6" fill="#fff"/>
<rect x="439" y="246" width="128" height="20" fill="#000"/>
<rect x="447" y="253" width="112" height="6" fill="#fff"/>
<rect x="577" y="246" width="202" height="20" fill="#000"/>
<rect x="585" y="253" width="186" height="6" fill="#fff"/>
<rect x="439" y="291" width="128" height="20" fill="#000"/>
<rect x="447" y="298" width="112" height="6" fill="#fff"/>
<rect x="577" y="291" width="202" height="20" fill="#000"/>
<rect x="585" y="298" width="186" height="6" fill="#fff"/>
<rect x="439" y="335" width="128" height="20" fill="#000"/>
<rect x="447" y="342" width="112" height="6" fill="#fff"/>
<rect x="577" y="335" width="202" height="20" fill="#000"/>
<rect x="585" y="342" width="186" height="6" fill="#fff"/>
<rect x="500" y="70" width="177" height="19" fill="#000"/>
<rect x="507" y="77" width="33" height="6" fill="#fff"/>
<rect x="550" y="77" width="22" height="6" fill="#fff"/>
<rect x="605" y="77" width="65" height="6" fill="#fff"/>
<rect x="574" y="73" width="29" height="14" rx="2" fill="#fff"/>
<rect x="500" y="115" width="177" height="19" fill="#000"/>
<rect x="507" y="122" width="33" height="6" fill="#fff"/>
<rect x="550" y="122" width="22" height="6" fill="#fff"/>
<rect x="605" y="122" width="65" height="6" fill="#fff"/>
<rect x="574" y="118" width="29" height="14" rx="2" fill="#fff"/>
<rect x="500" y="158" width="177" height="19" fill="#000"/>
<rect x="507" y="165" width="33" height="6" fill="#fff"/>
<rect x="550" y="165" width="22" height="6" fill="#fff"/>
<rect x="605" y="165" width="65" height="6" fill="#fff"/>
<rect x="574" y="161" width="29" height="14" rx="2" fill="#fff"/>
<rect x="757" y="336" width="34" height="19" rx="3" ry="3" fill="#000"/>
<rect x="759" y="338" width="30" height="15" rx="2" ry="2" fill="#fff"/>
<rect x="20" y="324" width="26" height="19" rx="3" ry="3" fill="#000"/>
<rect x="22" y="326" width="22" height="15" rx="2" ry="2" fill="#fff"/>
<path d="M45,330.0 L48,330.0 L56,332.5 L60,332.5 L60,334.5 L56,334.5 L48,337.0 L45,337.0 Z" fill="#000" />
<rect x="44" y="333" width="9" height="1" fill="#fff"/>
<rect x="60" y="322" width="7" height="25" fill="#000"/>
<rect x="62" y="324" width="3" height="3" fill="#fff"/>
<rect x="62" y="328" width="4" height="1" fill="#fff"/>
<rect x="62" y="334" width="4" height="1" fill="#fff"/>
<rect x="62" y="339" width="4" height="1" fill="#fff"/>
<rect x="62" y="345" width="4" height="1" fill="#fff"/>
<rect x="20" y="346" width="26" height="19" rx="3" ry="3" fill="#000"/>
<rect x="22" y="348" width="22" height="15" rx="2" ry="2" fill="#fff"/>
<path d="M45,352.0 L48,352.0 L56,354.5 L60,354.5 L60,356.5 L56,356.5 L48,359.0 L45,359.0 Z" fill="#000" />
<rect x="44" y="355" width="9" height="1" fill="#fff"/>
<rect x="60" y="349" width="7" height="14" fill="#000"/>
<rect x="62" y="351" width="3" height="3" fill="#fff"/>
<rect x="62" y="355" width="4" height="1" fill="#fff"/>
<rect x="62" y="361" width="4" height="1" fill="#fff"/>
<rect x="20" y="372" width="26" height="18" rx="3" ry="3" fill="#000"/>
<rect x="22" y="374" width="22" height="14" rx="2" ry="2" fill="#fff"/>
<path d="M45,378.0 L48,378.0 L56,380.5 L60,380.5 L60,382.5 L56,382.5 L48,385.0 L45,385.0 Z" fill="#000" />
<rect x="44" y="381" width="9" height="1" fill="#fff"/>
<rect x="60" y="365" width="7" height="30" fill="#000"/>
<rect x="62" y="367" width="3" height="3" fill="#fff"/>
<rect x="62" y="371" width="4" height="1" fill="#fff"/>
<rect x="62" y="376" width="4" height="1" fill="#fff"/>
<rect x="62" y="382" width="4" height="1" fill="#fff"/>
<rect x="62" y="388" width="4" height="1" fill="#fff"/>
<rect x="62" y="393" width="4" height="1" fill="#fff"/>
<rect x="20" y="395" width="26" height="18" rx="3" ry="3" fill="#000"/>
<rect x="22" y="397" width="22" height="14" rx="2" ry="2" fill="#fff"/>
<path d="M45,401.0 L48,401.0 L56,403.5 L60,403.5 L60,405.5 L56,405.5 L48,408.0 L45,408.0 Z" fill="#000" />
<rect x="44" y="404" width="9" height="1" fill="#fff"/>
<rect x="60" y="398" width="7" height="18" fill="#000"/>
<rect x="62" y="400" width="3" height="3" fill="#fff"/>
<rect x="62" y="404" width="4" height="1" fill="#fff"/>
<rect x="62" y="409" width="4" height="1" fill="#fff"/>
<rect x="62" y="414" width="4" height="1" fill="#fff"/>
<rect x="20" y="415" width="26" height="18" rx="3" ry="3" fill="#000"/>
<rect x="22" y="417" width="22" height="14" rx="2" ry="2" fill="#fff"/>
<path d="M45,421.0 L48,421.0 L56,423.5 L60,423.5 L60,425.5 L56,425.5 L48,428.0 L45,428.0 Z" fill="#000" />
<rect x="44" y="424" width="9" height="1" fill="#fff"/>
<rect x="60" y="419" width="7" height="14" fill="#000"/>
<rect x="62" y="421" width="3" height="3" fill="#fff"/>
<rect x="62" y="425" width="4" height="1" fill="#fff"/>
<rect x="62" y="431" width="4" height="1" fill="#fff"/>
<rect x="20" y="436" width="26" height="18" rx="3" ry="3" fill="#000"/>
<rect x="22" y="438" width="22" height="14" rx="2" ry="2" fill="#fff"/>
<path d="M45,442.0 L48,442.0 L56,444.5 L60,444.5 L60,446.5 L56,446.5 L48,449.0 L45,449.0 Z" fill="#000" />
<rect x="44" y="445" width="9" height="1" fill="#fff"/>
<rect x="60" y="435" width="7" height="18" fill="#000"/>
<rect x="62" y="437" width="3" height="3" fill="#fff"/>
<rect x="62" y="441" width="4" height="1" fill="#fff"/>
<rect x="62" y="446" width="4" height="1" fill="#fff"/>
<rect x="62" y="451" width="4" height="1" fill="#fff"/>
<rect x="7" y="458" width="36" height="19" rx="3" ry="3" fill="#000"/>
<rect x="9" y="460" width="32" height="15" rx="2" ry="2" fill="#fff"/>
<path d="M42,464.0 L45,464.0 L53,466.5 L57,466.5 L57,468.5 L53,468.5 L45,471.0 L42,471.0 Z" fill="#000" />
<rect x="41" y="467" width="9" height="1" fill="#fff"/>
<rect x="57" y="458" width="13" height="19" fill="#000"/>
<rect x="58" y="459" width="1" height="17" fill="#fff"/>
<rect x="63" y="459" width="1" height="17" fill="#fff"/>
<rect x="58" y="464" width="11" height="1" fill="#fff"/>
<rect x="58" y="470" width="11" height="1" fill="#fff"/>
<rect x="60" y="461" width="2" height="2" fill="#fff"/>
<rect x="84" y="354" width="279" height="16" fill="#000"/>
<rect x="85" y="355" width="277" height="14" fill="#fff"/>
<rect x="85" y="358" width="7" height="1" fill="#000"/>
<rect x="85" y="363" width="7" height="1" fill="#000"/>
<rect x="92" y="355" width="4" height="14" fill="#000"/>
<rect x="96" y="357" width="10" height="9" fill="#000"/>
<rect x="97" y="358" width="8" height="6" fill="#fff"/>
<rect x="96" y="365" width="8" height="4" fill="#000"/>
<rect x="96" y="366" width="7" height="2" fill="#fff"/>
<rect x="96" y="366" width="4" height="1" fill="#000"/>
<rect x="103" y="364" width="1" height="2" fill="#000"/>
<rect x="354" y="355" width="1" height="14" fill="#000"/>
<rect x="355" y="358" width="7" height="1" fill="#000"/>
<rect x="355" y="363" width="7" height="1" fill="#000"/>
<rect x="351" y="355" width="3" height="14" fill="#000"/>
<rect x="353" y="357" width="1" height="10" fill="#fff"/>
<rect x="341" y="357" width="10" height="9" fill="#000"/>
<rect x="342" y="358" width="8" height="6" fill="#fff"/>
<rect x="343" y="365" width="8" height="4" fill="#000"/>
<rect x="344" y="366" width="7" height="2" fill="#fff"/>
<rect x="348" y="366" width="3" height="1" fill="#000"/>
<rect x="107" y="356" width="112" height="12" fill="#000"/>
<rect x="108" y="358" width="1" height="4" fill="#fff"/>
<rect x="111" y="358" width="1" height="4" fill="#fff"/>
<rect x="114" y="358" width="1" height="4" fill="#fff"/>
<rect x="117" y="358" width="1" height="4" fill="#fff"/>
<rect x="120" y="358" width="1" height="4" fill="#fff"/>
<rect x="123" y="358" width="1" height="4" fill="#fff"/>
<rect x="126" y="358" width="1" height="4" fill="#fff"/>
<rect x="129" y="358" width="1" height="4" fill="#fff"/>
<rect x="132" y="358" width="1" height="4" fill="#fff"/>
<rect x="135" y="358" width="1" height="4" fill="#fff"/>
<rect x="138" y="358" width="1" height="4" fill="#fff"/>
<rect x="141" y="358" width="1" height="4" fill="#fff"/>
<rect x="144" y="358" width="1" height="4" fill="#fff"/>
<rect x="147" y="358" width="1" height="4" fill="#fff"/>
<rect x="150" y="358" width="1" height="4" fill="#fff"/>
<rect x="153" y="358" width="1" height="4" fill="#fff"/>
<rect x="156" y="358" width="1" height="4" fill="#fff"/>
<rect x="159" y="358" width="1" height="4" fill="#fff"/>
<rect x="162" y="358" width="1" height="4" fill="#fff"/>
<rect x="165" y="358" width="1" height="4" fill="#fff"/>
<rect x="167" y="358" width="1" height="4" fill="#fff"/>
<rect x="170" y="358" width="1" height="4" fill="#fff"/>
<rect x="173" y="358" width="1" height="4" fill="#fff"/>
<rect x="176" y="358" width="1" height="4" fill="#fff"/>
<rect x="179" y="358" width="1" height="4" fill="#fff"/>
<rect x="182" y="358" width="1" height="4" fill="#fff"/>
<rect x="185" y="358" width="1" height="4" fill="#fff"/>
<rect x="188" y="358" width="1" height="4" fill="#fff"/>
<rect x="191" y="358" width="1" height="4" fill="#fff"/>
<rect x="194" y="358" width="1" height="4" fill="#fff"/>
<rect x="197" y="358" width="1" height="4" fill="#fff"/>
<rect x="200" y="358" width="1" height="4" fill="#fff"/>
<rect x="203" y="358" width="1" height="4" fill="#fff"/>
<rect x="206" y="358" width="1" height="4" fill="#fff"/>
<rect x="209" y="358" width="1" height="4" fill="#fff"/>
<rect x="212" y="358" width="1" height="4" fill="#fff"/>
<rect x="215" y="358" width="1" height="4" fill="#fff"/>
<rect x="218" y="358" width="1" height="4" fill="#fff"/>
<rect x="227" y="356" width="112" height="12" fill="#000"/>
<rect x="228" y="358" width="1" height="4" fill="#fff"/>
<rect x="231" y="358" width="1" height="4" fill="#fff"/>
<rect x="234" y="358" width="1" height="4" fill="#fff"/>
<rect x="237" y="358" width="1" height="4" fill="#fff"/>
<rect x="240" y="358" width="1" height="4" fill="#fff"/>
<rect x="243" y="358" width="1" height="4" fill="#fff"/>
<rect x="246" y="358" width="1" height="4" fill="#fff"/>
<rect x="249" y="358" width="1" height="4" fill="#fff"/>
<rect x="252" y="358" width="1" height="4" fill="#fff"/>
<rect x="255" y="358" width="1" height="4" fill="#fff"/>
<rect x="258" y="358" width="1" height="4" fill="#fff"/>
<rect x="261" y="358" width="1" height="4" fill="#fff"/>
<rect x="264" y="358" width="1" height="4" fill="#fff"/>
<rect x="267" y="358" width="1" height="4" fill="#fff"/>
<rect x="270" y="358" width="1" height="4" fill="#fff"/>
<rect x="273" y="358" width="1" height="4" fill="#fff"/>
<rect x="276" y="358" width="1" height="4" fill="#fff"/>
<rect x="279" y="358" width="1" height="4" fill="#fff"/>
<rect x="282" y="358" width="1" height="4" fill="#fff"/>
<rect x="285" y="358" width="1" height="4" fill="#fff"/>
<rect x="287" y="358" width="1" height="4" fill="#fff"/>
<rect x="290" y="358" width="1" height="4" fill="#fff"/>
<rect x="293" y="358" width="1" height="4" fill="#fff"/>
<rect x="296" y="358" width="1" height="4" fill="#fff"/>
<rect x="299" y="358" width="1" height="4" fill="#fff"/>
<rect x="302" y="358" width="1" height="4" fill="#fff"/>
<rect x="305" y="358" width="1" height="4" fill="#fff"/>
<rect x="308" y="358" width="1" height="4" fill="#fff"/>
<rect x="311" y="358" width="1" height="4" fill="#fff"/>
<rect x="314" y="358" width="1" height="4" fill="#fff"/>
<rect x="317" y="358" width="1" height="4" fill="#fff"/>
<rect x="320" y="358" width="1" height="4" fill="#fff"/>
<rect x="323" y="358" width="1" height="4" fill="#fff"/>
<rect x="326" y="358" width="1" height="4" fill="#fff"/>
<rect x="329" y="358" width="1" height="4" fill="#fff"/>
<rect x="332" y="358" width="1" height="4" fill="#fff"/>
<rect x="335" y="358" width="1" height="4" fill="#fff"/>
<rect x="338" y="358" width="1" height="4" fill="#fff"/>
<rect x="98" y="373" width="251" height="20" fill="#000"/>
<rect x="85" y="380" width="5" height="21" fill="#000"/>
<rect x="89" y="382" width="10" height="21" fill="#000"/>
<rect x="349" y="382" width="8" height="21" fill="#000"/>
<rect x="357" y="380" width="5" height="21" fill="#000"/>
<rect x="106" y="387" width="5" height="1" fill="#fff"/>
<rect x="106" y="389" width="5" height="1" fill="#fff"/>
<rect x="106" y="391" width="2" height="1" fill="#fff"/>
<rect x="109" y="391" width="2" height="1" fill="#fff"/>
<rect x="113" y="387" width="5" height="1" fill="#fff"/>
<rect x="113" y="389" width="5" height="1" fill="#fff"/>
<rect x="113" y="391" width="2" height="1" fill="#fff"/>
<rect x="116" y="391" width="2" height="1" fill="#fff"/>
<rect x="119" y="387" width="5" height="1" fill="#fff"/>
<rect x="119" y="389" width="5" height="1" fill="#fff"/>
<rect x="119" y="391" width="2" height="1" fill="#fff"/>
<rect x="122" y="391" width="2" height="1" fill="#fff"/>
<rect x="126" y="387" width="5" height="1" fill="#fff"/>
<rect x="126" y="389" width="5" height="1" fill="#fff"/>
<rect x="126" y="391" width="2" height="1" fill="#fff"/>
<rect x="129" y="391" width="2" height="1" fill="#fff"/>
<rect x="132" y="387" width="5" height="1" fill="#fff"/>
<rect x="132" y="389" width="5" height="1" fill="#fff"/>
<rect x="132" y="391" width="2" height="1" fill="#fff"/>
<rect x="135" y="391" width="2" height="1" fill="#fff"/>
<rect x="139" y="387" width="5" height="1" fill="#fff"/>
<rect x="139" y="389" width="5" height="1" fill="#fff"/>
<rect x="139" y="391" width="2" height="1" fill="#fff"/>
<rect x="142" y="391" width="2" height="1" fill="#fff"/>
<rect x="146" y="387" width="5" height="1" fill="#fff"/>
<rect x="146" y="389" width="5" height="1" fill="#fff"/>
<rect x="146" y="391" width="2" height="1" fill="#fff"/>
<rect x="149" y="391" width="2" height="1" fill="#fff"/>
<rect x="152" y="387" width="5" height="1" fill="#fff"/>
<rect x="152" y="389" width="5" height="1" fill="#fff"/>
<rect x="152" y="391" width="2" height="1" fill="#fff"/>
<rect x="155" y="391" width="2" height="1" fill="#fff"/>
<rect x="159" y="387" width="5" height="1" fill="#fff"/>
<rect x="159" y="389" width="5" height="1" fill="#fff"/>
<rect x="159" y="391" width="2" height="1" fill="#fff"/>
<rect x="162" y="391" width="2" height="1" fill="#fff"/>
<rect x="166" y="387" width="5" height="1" fill="#fff"/>
<rect x="166" y="389" width="5" height="1" fill="#fff"/>
<rect x="166" y="391" width="2" height="1" fill="#fff"/>
<rect x="169" y="391" width="2" height="1" fill="#fff"/>
<rect x="172" y="387" width="5" height="1" fill="#fff"/>
<rect x="172" y="389" width="5" height="1" fill="#fff"/>
<rect x="172" y="391" width="2" height="1" fill="#fff"/>
<rect x="175" y="391" width="2" height="1" fill="#fff"/>
<rect x="179" y="387" width="5" height="1" fill="#fff"/>
<rect x="179" y="389" width="5" height="1" fill="#fff"/>
<rect x="179" y="391" width="2" height="1" fill="#fff"/>
<rect x="182" y="391" width="2" height="1" fill="#fff"/>
<rect x="185" y="387" width="5" height="1" fill="#fff"/>
<rect x="185" y="389" width="5" height="1" fill="#fff"/>
<rect x="185" y="391" width="2" height="1" fill="#fff"/>
<rect x="188" y="391" width="2" height="1" fill="#fff"/>
<rect x="192" y="387" width="5" height="1" fill="#fff"/>
<rect x="192" y="389" width="5" height="1" fill="#fff"/>
<rect x="192" y="391" width="2" height="1" fill="#fff"/>
<rect x="195" y="391" width="2" height="1" fill="#fff"/>
<rect x="199" y="387" width="5" height="1" fill="#fff"/>
<rect x="199" y="389" width="5" height="1" fill="#fff"/>
<rect x="199" y="391" width="2" height="1" fill="#fff"/>
<rect x="202" y="391" width="2" height="1" fill="#fff"/>
<rect x="205" y="387" width="5" height="1" fill="#fff"/>
<rect x="205" y="389" width="5" height="1" fill="#fff"/>
<rect x="205" y="391" width="2" height="1" fill="#fff"/>
<rect x="208" y="391" width="2" height="1" fill="#fff"/>
<rect x="212" y="387" width="5" height="1" fill="#fff"/>
<rect x="212" y="389" width="5" height="1" fill="#fff"/>
<rect x="212" y="391" width="2" height="1" fill="#fff"/>
<rect x="215" y="391" width="2" height="1" fill="#fff"/>
<rect x="219" y="387" width="5" height="1" fill="#fff"/>
<rect x="219" y="389" width="5" height="1" fill="#fff"/>
<rect x="219" y="391" width="2" height="1" fill="#fff"/>
<rect x="222" y="391" width="2" height="1" fill="#fff"/>
<rect x="225" y="387" width="5" height="1" fill="#fff"/>
<rect x="225" y="389" width="5" height="1" fill="#fff"/>
<rect x="225" y="391" width="2" height="1" fill="#fff"/>
<rect x="228" y="391" width="2" height="1" fill="#fff"/>
<rect x="232" y="387" width="5" height="1" fill="#fff"/>
<rect x="232" y="389" width="5" height="1" fill="#fff"/>
<rect x="232" y="391" width="2" height="1" fill="#fff"/>
<rect x="235" y="391" width="2" height="1" fill="#fff"/>
<rect x="238" y="387" width="5" height="1" fill="#fff"/>
<rect x="238" y="389" width="5" height="1" fill="#fff"/>
<rect x="238" y="391" width="2" height="1" fill="#fff"/>
<rect x="241" y="391" width="2" height="1" fill="#fff"/>
<rect x="245" y="387" width="5" height="1" fill="#fff"/>
<rect x="245" y="389" width="5" height="1" fill="#fff"/>
<rect x="245" y="391" width="2" height="1" fill="#fff"/>
<rect x="248" y="391" width="2" height="1" fill="#fff"/>
<rect x="252" y="387" width="5" height="1" fill="#fff"/>
<rect x="252" y="389" width="5" height="1" fill="#fff"/>
<rect x="252" y="391" width="2" height="1" fill="#fff"/>
<rect x="255" y="391" width="2" height="1" fill="#fff"/>
<rect x="258" y="387" width="5" height="1" fill="#fff"/>
<rect x="258" y="389" width="5" height="1" fill="#fff"/>
<rect x="258" y="391" width="2" height="1" fill="#fff"/>
<rect x="261" y="391" width="2" height="1" fill="#fff"/>
<rect x="265" y="387" width="5" height="1" fill="#fff"/>
<rect x="265" y="389" width="5" height="1" fill="#fff"/>
<rect x="265" y="391" width="2" height="1" fill="#fff"/>
<rect x="268" y="391" width="2" height="1" fill="#fff"/>
<rect x="272" y="387" width="5" height="1" fill="#fff"/>
<rect x="272" y="389" width="5" height="1" fill="#fff"/>
<rect x="272" y="391" width="2" height="1" fill="#fff"/>
<rect x="275" y="391" width="2" height="1" fill="#fff"/>
<rect x="278" y="387" width="5" height="1" fill="#fff"/>
<rect x="278" y="389" width="5" height="1" fill="#fff"/>
<rect x="278" y="391" width="2" height="1" fill="#fff"/>
<rect x="281" y="391" width="2" height="1" fill="#fff"/>
<rect x="285" y="387" width="5" height="1" fill="#fff"/>
<rect x="285" y="389" width="5" height="1" fill="#fff"/>
<rect x="285" y="391" width="2" height="1" fill="#fff"/>
<rect x="288" y="391" width="2" height="1" fill="#fff"/>
<rect x="291" y="387" width="5" height="1" fill="#fff"/>
<rect x="291" y="389" width="5" height="1" fill="#fff"/>
<rect x="291" y="391" width="2" height="1" fill="#fff"/>
<rect x="294" y="391" width="2" height="1" fill="#fff"/>
<rect x="298" y="387" width="5" height="1" fill="#fff"/>
<rect x="298" y="389" width="5" height="1" fill="#fff"/>
<rect x="298" y="391" width="2" height="1" fill="#fff"/>
<rect x="301" y="391" width="2" height="1" fill="#fff"/>
<rect x="305" y="387" width="5" height="1" fill="#fff"/>
<rect x="305" y="389" width="5" height="1" fill="#fff"/>
<rect x="305" y="391" width="2" height="1" fill="#fff"/>
<rect x="308" y="391" width="2" height="1" fill="#fff"/>
<rect x="311" y="387" width="5" height="1" fill="#fff"/>
<rect x="311" y="389" width="5" height="1" fill="#fff"/>
<rect x="311" y="391" width="2" height="1" fill="#fff"/>
<rect x="314" y="391" width="2" height="1" fill="#fff"/>
<rect x="318" y="387" width="5" height="1" fill="#fff"/>
<rect x="318" y="389" width="5" height="1" fill="#fff"/>
<rect x="318" y="391" width="2" height="1" fill="#fff"/>
<rect x="321" y="391" width="2" height="1" fill="#fff"/>
<rect x="324" y="387" width="5" height="1" fill="#fff"/>
<rect x="324" y="389" width="5" height="1" fill="#fff"/>
<rect x="324" y="391" width="2" height="1" fill="#fff"/>
<rect x="327" y="391" width="2" height="1" fill="#fff"/>
<rect x="331" y="387" width="5" height="1" fill="#fff"/>
<rect x="331" y="389" width="5" height="1" fill="#fff"/>
<rect x="331" y="391" width="2" height="1" fill="#fff"/>
<rect x="334" y="391" width="2" height="1" fill="#fff"/>
<rect x="98" y="411" width="251" height="20" fill="#000"/>
<rect x="85" y="417" width="5" height="21" fill="#000"/>
<rect x="89" y="419" width="10" height="21" fill="#000"/>
<rect x="349" y="419" width="8" height="21" fill="#000"/>
<rect x="357" y="417" width="5" height="21" fill="#000"/>
<rect x="106" y="425" width="5" height="1" fill="#fff"/>
<rect x="106" y="427" width="5" height="1" fill="#fff"/>
<rect x="106" y="429" width="2" height="1" fill="#fff"/>
<rect x="109" y="429" width="2" height="1" fill="#fff"/>
<rect x="113" y="425" width="5" height="1" fill="#fff"/>
<rect x="113" y="427" width="5" height="1" fill="#fff"/>
<rect x="113" y="429" width="2" height="1" fill="#fff"/>
<rect x="116" y="429" width="2" height="1" fill="#fff"/>
<rect x="119" y="425" width="5" height="1" fill="#fff"/>
<rect x="119" y="427" width="5" height="1" fill="#fff"/>
<rect x="119" y="429" width="2" height="1" fill="#fff"/>
<rect x="122" y="429" width="2" height="1" fill="#fff"/>
<rect x="126" y="425" width="5" height="1" fill="#fff"/>
<rect x="126" y="427" width="5" height="1" fill="#fff"/>
<rect x="126" y="429" width="2" height="1" fill="#fff"/>
<rect x="129" y="429" width="2" height="1" fill="#fff"/>
<rect x="132" y="425" width="5" height="1" fill="#fff"/>
<rect x="132" y="427" width="5" height="1" fill="#fff"/>
<rect x="132" y="429" width="2" height="1" fill="#fff"/>
<rect x="135" y="429" width="2" height="1" fill="#fff"/>
<rect x="139" y="425" width="5" height="1" fill="#fff"/>
<rect x="139" y="427" width="5" height="1" fill="#fff"/>
<rect x="139" y="429" width="2" height="1" fill="#fff"/>
<rect x="142" y="429" width="2" height="1" fill="#fff"/>
<rect x="146" y="425" width="5" height="1" fill="#fff"/>
<rect x="146" y="427" width="5" height="1" fill="#fff"/>
<rect x="146" y="429" width="2" height="1" fill="#fff"/>
<rect x="149" y="429" width="2" height="1" fill="#fff"/>
<rect x="152" y="425" width="5" height="1" fill="#fff"/>
<rect x="152" y="427" width="5" height="1" fill="#fff"/>
<rect x="152" y="429" width="2" height="1" fill="#fff"/>
<rect x="155" y="429" width="2" height="1" fill="#fff"/>
<rect x="159" y="425" width="5" height="1" fill="#fff"/>
<rect x="159" y="427" width="5" height="1" fill="#fff"/>
<rect x="159" y="429" width="2" height="1" fill="#fff"/>
<rect x="162" y="429" width="2" height="1" fill="#fff"/>
<rect x="166" y="425" width="5" height="1" fill="#fff"/>
<rect x="166" y="427" width="5" height="1" fill="#fff"/>
<rect x="166" y="429" width="2" height="1" fill="#fff"/>
<rect x="169" y="429" width="2" height="1" fill="#fff"/>
<rect x="172" y="425" width="5" height="1" fill="#fff"/>
<rect x="172" y="427" width="5" height="1" fill="#fff"/>
<rect x="172" y="429" width="2" height="1" fill="#fff"/>
<rect x="175" y="429" width="2" height="1" fill="#fff"/>
<rect x="179" y="425" width="5" height="1" fill="#fff"/>
<rect x="179" y="427" width="5" height="1" fill="#fff"/>
<rect x="179" y="429" width="2" height="1" fill="#fff"/>
<rect x="182" y="429" width="2" height="1" fill="#fff"/>
<rect x="185" y="425" width="5" height="1" fill="#fff"/>
<rect x="185" y="427" width="5" height="1" fill="#fff"/>
<rect x="185" y="429" width="2" height="1" fill="#fff"/>
<rect x="188" y="429" width="2" height="1" fill="#fff"/>
<rect x="192" y="425" width="5" height="1" fill="#fff"/>
<rect x="192" y="427" width="5" height="1" fill="#fff"/>
<rect x="192" y="429" width="2" height="1" fill="#fff"/>
<rect x="195" y="429" width="2" height="1" fill="#fff"/>
<rect x="199" y="425" width="5" height="1" fill="#fff"/>
<rect x="199" y="427" width="5" height="1" fill="#fff"/>
<rect x="199" y="429" width="2" height="1" fill="#fff"/>
<rect x="202" y="429" width="2" height="1" fill="#fff"/>
<rect x="205" y="425" width="5" height="1" fill="#fff"/>
<rect x="205" y="427" width="5" height="1" fill="#fff"/>
<rect x="205" y="429" width="2" height="1" fill="#fff"/>
<rect x="208" y="429" width="2" height="1" fill="#fff"/>
<rect x="212" y="425" width="5" height="1" fill="#fff"/>
<rect x="212" y="427" width="5" height="1" fill="#fff"/>
<rect x="212" y="429" width="2" height="1" fill="#fff"/>
<rect x="215" y="429" width="2" height="1" fill="#fff"/>
<rect x="219" y="425" width="5" height="1" fill="#fff"/>
<rect x="219" y="427" width="5" height="1" fill="#fff"/>
<rect x="219" y="429" width="2" height="1" fill="#fff"/>
<rect x="222" y="429" width="2" height="1" fill="#fff"/>
<rect x="225" y="425" width="5" height="1" fill="#fff"/>
<rect x="225" y="427" width="5" height="1" fill="#fff"/>
<rect x="225" y="429" width="2" height="1" fill="#fff"/>
<rect x="228" y="429" width="2" height="1" fill="#fff"/>
<rect x="232" y="425" width="5" height="1" fill="#fff"/>
<rect x="232" y="427" width="5" height="1" fill="#fff"/>
<rect x="232" y="429" width="2" height="1" fill="#fff"/>
<rect x="235" y="429" width="2" height="1" fill="#fff"/>
<rect x="238" y="425" width="5" height="1" fill="#fff"/>
<rect x="238" y="427" width="5" height="1" fill="#fff"/>
<rect x="238" y="429" width="2" height="1" fill="#fff"/>
<rect x="241" y="429" width="2" height="1" fill="#fff"/>
<rect x="245" y="425" width="5" height="1" fill="#fff"/>
<rect x="245" y="427" width="5" height="1" fill="#fff"/>
<rect x="245" y="429" width="2" height="1" fill="#fff"/>
<rect x="248" y="429" width="2" height="1" fill="#fff"/>
<rect x="252" y="425" width="5" height="1" fill="#fff"/>
<rect x="252" y="427" width="5" height="1" fill="#fff"/>
<rect x="252" y="429" width="2" height="1" fill="#fff"/>
<rect x="255" y="429" width="2" height="1" fill="#fff"/>
<rect x="258" y="425" width="5" height="1" fill="#fff"/>
<rect x="258" y="427" width="5" height="1" fill="#fff"/>
<rect x="258" y="429" width="2" height="1" fill="#fff"/>
<rect x="261" y="429" width="2" height="1" fill="#fff"/>
<rect x="265" y="425" width="5" height="1" fill="#fff"/>
<rect x="265" y="427" width="5" height="1" fill="#fff"/>
<rect x="265" y="429" width="2" height="1" fill="#fff"/>
<rect x="268" y="429" width="2" height="1" fill="#fff"/>
<rect x="272" y="425" width="5" height="1" fill="#fff"/>
<rect x="272" y="427" width="5" height="1" fill="#fff"/>
<rect x="272" y="429" width="2" height="1" fill="#fff"/>
<rect x="275" y="429" width="2" height="1" fill="#fff"/>
<rect x="278" y="425" width="5" height="1" fill="#fff"/>
<rect x="278" y="427" width="5" height="1" fill="#fff"/>
<rect x="278" y="429" width="2" height="1" fill="#fff"/>
<rect x="281" y="429" width="2" height="1" fill="#fff"/>
<rect x="285" y="425" width="5" height="1" fill="#fff"/>
<rect x="285" y="427" width="5" height="1" fill="#fff"/>
<rect x="285" y="429" width="2" height="1" fill="#fff"/>
<rect x="288" y="429" width="2" height="1" fill="#fff"/>
<rect x="291" y="425" width="5" height="1" fill="#fff"/>
<rect x="291" y="427" width="5" height="1" fill="#fff"/>
<rect x="291" y="429" width="2" height="1" fill="#fff"/>
<rect x="294" y="429" width="2" height="1" fill="#fff"/>
<rect x="298" y="425" width="5" height="1" fill="#fff"/>
<rect x="298" y="427" width="5" height="1" fill="#fff"/>
<rect x="298" y="429" width="2" height="1" fill="#fff"/>
<rect x="301" y="429" width="2" height="1" fill="#fff"/>
<rect x="305" y="425" width="5" height="1" fill="#fff"/>
<rect x="305" y="427" width="5" height="1" fill="#fff"/>
<rect x="305" y="429" width="2" height="1" fill="#fff"/>
<rect x="308" y="429" width="2" height="1" fill="#fff"/>
<rect x="311" y="425" width="5" height="1" fill="#fff"/>
<rect x="311" y="427" width="5" height="1" fill="#fff"/>
<rect x="311" y="429" width="2" height="1" fill="#fff"/>
<rect x="314" y="429" width="2" height="1" fill="#fff"/>
<rect x="318" y="425" width="5" height="1" fill="#fff"/>
<rect x="318" y="427" width="5" height="1" fill="#fff"/>
<rect x="318" y="429" width="2" height="1" fill="#fff"/>
<rect x="321" y="429" width="2" height="1" fill="#fff"/>
<rect x="324" y="425" width="5" height="1" fill="#fff"/>
<rect x="324" y="427" width="5" height="1" fill="#fff"/>
<rect x="324" y="429" width="2" height="1" fill="#fff"/>
<rect x="327" y="429" width="2" height="1" fill="#fff"/>
<rect x="331" y="425" width="5" height="1" fill="#fff"/>
<rect x="331" y="427" width="5" height="1" fill="#fff"/>
<rect x="331" y="429" width="2" height="1" fill="#fff"/>
<rect x="334" y="429" width="2" height="1" fill="#fff"/>
<rect x="98" y="446" width="251" height="20" fill="#000"/>
<rect x="85" y="453" width="5" height="21" fill="#000"/>
<rect x="89" y="456" width="10" height="21" fill="#000"/>
<rect x="349" y="456" width="8" height="21" fill="#000"/>
<rect x="357" y="453" width="5" height="21" fill="#000"/>
<rect x="106" y="460" width="5" height="1" fill="#fff"/>
<rect x="106" y="462" width="5" height="1" fill="#fff"/>
<rect x="106" y="464" width="2" height="1" fill="#fff"/>
<rect x="109" y="464" width="2" height="1" fill="#fff"/>
<rect x="113" y="460" width="5" height="1" fill="#fff"/>
<rect x="113" y="462" width="5" height="1" fill="#fff"/>
<rect x="113" y="464" width="2" height="1" fill="#fff"/>
<rect x="116" y="464" width="2" height="1" fill="#fff"/>
<rect x="119" y="460" width="5" height="1" fill="#fff"/>
<rect x="119" y="462" width="5" height="1" fill="#fff"/>
<rect x="119" y="464" width="2" height="1" fill="#fff"/>
<rect x="122" y="464" width="2" height="1" fill="#fff"/>
<rect x="126" y="460" width="5" height="1" fill="#fff"/>
<rect x="126" y="462" width="5" height="1" fill="#fff"/>
<rect x="126" y="464" width="2" height="1" fill="#fff"/>
<rect x="129" y="464" width="2" height="1" fill="#fff"/>
<rect x="132" y="460" width="5" height="1" fill="#fff"/>
<rect x="132" y="462" width="5" height="1" fill="#fff"/>
<rect x="132" y="464" width="2" height="1" fill="#fff"/>
<rect x="135" y="464" width="2" height="1" fill="#fff"/>
<rect x="139" y="460" width="5" height="1" fill="#fff"/>
<rect x="139" y="462" width="5" height="1" fill="#fff"/>
<rect x="139" y="464" width="2" height="1" fill="#fff"/>
<rect x="142" y="464" width="2" height="1" fill="#fff"/>
<rect x="146" y="460" width="5" height="1" fill="#fff"/>
<rect x="146" y="462" width="5" height="1" fill="#fff"/>
<rect x="146" y="464" width="2" height="1" fill="#fff"/>
<rect x="149" y="464" width="2" height="1" fill="#fff"/>
<rect x="152" y="460" width="5" height="1" fill="#fff"/>
<rect x="152" y="462" width="5" height="1" fill="#fff"/>
<rect x="152" y="464" width="2" height="1" fill="#fff"/>
<rect x="155" y="464" width="2" height="1" fill="#fff"/>
<rect x="159" y="460" width="5" height="1" fill="#fff"/>
<rect x="159" y="462" width="5" height="1" fill="#fff"/>
<rect x="159" y="464" width="2" height="1" fill="#fff"/>
<rect x="162" y="464" width="2" height="1" fill="#fff"/>
<rect x="166" y="460" width="5" height="1" fill="#fff"/>
<rect x="166" y="462" width="5" height="1" fill="#fff"/>
<rect x="166" y="464" width="2" height="1" fill="#fff"/>
<rect x="169" y="464" width="2" height="1" fill="#fff"/>
<rect x="172" y="460" width="5" height="1" fill="#fff"/>
<rect x="172" y="462" width="5" height="1" fill="#fff"/>
<rect x="172" y="464" width="2" height="1" fill="#fff"/>
<rect x="175" y="464" width="2" height="1" fill="#fff"/>
<rect x="179" y="460" width="5" height="1" fill="#fff"/>
<rect x="179" y="462" width="5" height="1" fill="#fff"/>
<rect x="179" y="464" width="2" height="1" fill="#fff"/>
<rect x="182" y="464" width="2" height="1" fill="#fff"/>
<rect x="185" y="460" width="5" height="1" fill="#fff"/>
<rect x="185" y="462" width="5" height="1" fill="#fff"/>
<rect x="185" y="464" width="2" height="1" fill="#fff"/>
<rect x="188" y="464" width="2" height="1" fill="#fff"/>
<rect x="192" y="460" width="5" height="1" fill="#fff"/>
<rect x="192" y="462" width="5" height="1" fill="#fff"/>
<rect x="192" y="464" width="2" height="1" fill="#fff"/>
<rect x="195" y="464" width="2" height="1" fill="#fff"/>
<rect x="199" y="460" width="5" height="1" fill="#fff"/>
<rect x="199" y="462" width="5" height="1" fill="#fff"/>
<rect x="199" y="464" width="2" height="1" fill="#fff"/>
<rect x="202" y="464" width="2" height="1" fill="#fff"/>
<rect x="205" y="460" width="5" height="1" fill="#fff"/>
<rect x="205" y="462" width="5" height="1" fill="#fff"/>
<rect x="205" y="464" width="2" height="1" fill="#fff"/>
<rect x="208" y="464" width="2" height="1" fill="#fff"/>
<rect x="212" y="460" width="5" height="1" fill="#fff"/>
<rect x="212" y="462" width="5" height="1" fill="#fff"/>
<rect x="212" y="464" width="2" height="1" fill="#fff"/>
<rect x="215" y="464" width="2" height="1" fill="#fff"/>
<rect x="219" y="460" width="5" height="1" fill="#fff"/>
<rect x="219" y="462" width="5" height="1" fill="#fff"/>
<rect x="219" y="464" width="2" height="1" fill="#fff"/>
<rect x="222" y="464" width="2" height="1" fill="#fff"/>
<rect x="225" y="460" width="5" height="1" fill="#fff"/>
<rect x="225" y="462" width="5" height="1" fill="#fff"/>
<rect x="225" y="464" width="2" height="1" fill="#fff"/>
<rect x="228" y="464" width="2" height="1" fill="#fff"/>
<rect x="232" y="460" width="5" height="1" fill="#fff"/>
<rect x="232" y="462" width="5" height="1" fill="#fff"/>
<rect x="232" y="464" width="2" height="1" fill="#fff"/>
<rect x="235" y="464" width="2" height="1" fill="#fff"/>
<rect x="238" y="460" width="5" height="1" fill="#fff"/>
<rect x="238" y="462" width="5" height="1" fill="#fff"/>
<rect x="238" y="464" width="2" height="1" fill="#fff"/>
<rect x="241" y="464" width="2" height="1" fill="#fff"/>
<rect x="245" y="460" width="5" height="1" fill="#fff"/>
<rect x="245" y="462" width="5" height="1" fill="#fff"/>
<rect x="245" y="464" width="2" height="1" fill="#fff"/>
<rect x="248" y="464" width="2" height="1" fill="#fff"/>
<rect x="252" y="460" width="5" height="1" fill="#fff"/>
<rect x="252" y="462" width="5" height="1" fill="#fff"/>
<rect x="252" y="464" width="2" height="1" fill="#fff"/>
<rect x="255" y="464" width="2" height="1" fill="#fff"/>
<rect x="258" y="460" width="5" height="1" fill="#fff"/>
<rect x="258" y="462" width="5" height="1" fill="#fff"/>
<rect x="258" y="464" width="2" height="1" fill="#fff"/>
<rect x="261" y="464" width="2" height="1" fill="#fff"/>
<rect x="265" y="460" width="5" height="1" fill="#fff"/>
<rect x="265" y="462" width="5" height="1" fill="#fff"/>
<rect x="265" y="464" width="2" height="1" fill="#fff"/>
<rect x="268" y="464" width="2" height="1" fill="#fff"/>
<rect x="272" y="460" width="5" height="1" fill="#fff"/>
<rect x="272" y="462" width="5" height="1" fill="#fff"/>
<rect x="272" y="464" width="2" height="1" fill="#fff"/>
<rect x="275" y="464" width="2" height="1" fill="#fff"/>
<rect x="278" y="460" width="5" height="1" fill="#fff"/>
<rect x="278" y="462" width="5" height="1" fill="#fff"/>
<rect x="278" y="464" width="2" height="1" fill="#fff"/>
<rect x="281" y="464" width="2" height="1" fill="#fff"/>
<rect x="285" y="460" width="5" height="1" fill="#fff"/>
<rect x="285" y="462" width="5" height="1" fill="#fff"/>
<rect x="285" y="464" width="2" height="1" fill="#fff"/>
<rect x="288" y="464" width="2" height="1" fill="#fff"/>
<rect x="291" y="460" width="5" height="1" fill="#fff"/>
<rect x="291" y="462" width="5" height="1" fill="#fff"/>
<rect x="291" y="464" width="2" height="1" fill="#fff"/>
<rect x="294" y="464" width="2" height="1" fill="#fff"/>
<rect x="298" y="460" width="5" height="1" fill="#fff"/>
<rect x="298" y="462" width="5" height="1" fill="#fff"/>
<rect x="298" y="464" width="2" height="1" fill="#fff"/>
<rect x="301" y="464" width="2" height="1" fill="#fff"/>
<rect x="305" y="460" width="5" height="1" fill="#fff"/>
<rect x="305" y="462" width="5" height="1" fill="#fff"/>
<rect x="305" y="464" width="2" height="1" fill="#fff"/>
<rect x="308" y="464" width="2" height="1" fill="#fff"/>
<rect x="311" y="460" width="5" height="1" fill="#fff"/>
<rect x="311" y="462" width="5" height="1" fill="#fff"/>
<rect x="311" y="464" width="2" height="1" fill="#fff"/>
<rect x="314" y="464" width="2" height="1" fill="#fff"/>
<rect x="318" y="460" width="5" height="1" fill="#fff"/>
<rect x="318" y="462" width="5" height="1" fill="#fff"/>
<rect x="318" y="464" width="2" height="1" fill="#fff"/>
<rect x="321" y="464" width="2" height="1" fill="#fff"/>
<rect x="324" y="460" width="5" height="1" fill="#fff"/>
<rect x="324" y="462" width="5" height="1" fill="#fff"/>
<rect x="324" y="464" width="2" height="1" fill="#fff"/>
<rect x="327" y="464" width="2" height="1" fill="#fff"/>
<rect x="331" y="460" width="5" height="1" fill="#fff"/>
<rect x="331" y="462" width="5" height="1" fill="#fff"/>
<rect x="331" y="464" width="2" height="1" fill="#fff"/>
<rect x="334" y="464" width="2" height="1" fill="#fff"/>
<rect x="193" y="369" width="60" height="17" rx="3" ry="3" fill="#000"/>
<rect x="195" y="371" width="56" height="13" rx="2" ry="2" fill="#fff"/>
<rect x="194" y="433" width="60" height="18" rx="3" ry="3" fill="#000"/>
<rect x="196" y="435" width="56" height="14" rx="2" ry="2" fill="#fff"/>
<rect x="473" y="409" width="119" height="13" fill="#000"/>
<rect x="474" y="410" width="117" height="11" fill="#fff"/>
<rect x="475" y="411" width="5" height="4" fill="#000"/>
<rect x="475" y="416" width="5" height="4" fill="#000"/>
<rect x="481" y="411" width="5" height="4" fill="#000"/>
<rect x="481" y="416" width="5" height="4" fill="#000"/>
<rect x="487" y="411" width="4" height="4" fill="#000"/>
<rect x="487" y="416" width="4" height="4" fill="#000"/>
<rect x="492" y="411" width="5" height="4" fill="#000"/>
<rect x="492" y="416" width="5" height="4" fill="#000"/>
<rect x="498" y="411" width="5" height="4" fill="#000"/>
<rect x="498" y="416" width="5" height="4" fill="#000"/>
<rect x="504" y="411" width="5" height="4" fill="#000"/>
<rect x="504" y="416" width="5" height="4" fill="#000"/>
<rect x="510" y="411" width="5" height="4" fill="#000"/>
<rect x="510" y="416" width="5" height="4" fill="#000"/>
<rect x="516" y="411" width="4" height="4" fill="#000"/>
<rect x="516" y="416" width="4" height="4" fill="#000"/>
<rect x="521" y="411" width="5" height="4" fill="#000"/>
<rect x="521" y="416" width="5" height="4" fill="#000"/>
<rect x="527" y="411" width="5" height="4" fill="#000"/>
<rect x="527" y="416" width="5" height="4" fill="#000"/>
<rect x="533" y="411" width="5" height="4" fill="#000"/>
<rect x="533" y="416" width="5" height="4" fill="#000"/>
<rect x="539" y="411" width="5" height="4" fill="#000"/>
<rect x="539" y="416" width="5" height="4" fill="#000"/>
<rect x="545" y="411" width="4" height="4" fill="#000"/>
<rect x="545" y="416" width="4" height="4" fill="#000"/>
<rect x="550" y="411" width="5" height="4" fill="#000"/>
<rect x="550" y="416" width="5" height="4" fill="#000"/>
<rect x="556" y="411" width="5" height="4" fill="#000"/>
<rect x="556" y="416" width="5" height="4" fill="#000"/>
<rect x="562" y="411" width="5" height="4" fill="#000"/>
<rect x="562" y="416" width="5" height="4" fill="#000"/>
<rect x="568" y="411" width="5" height="4" fill="#000"/>
<rect x="568" y="416" width="5" height="4" fill="#000"/>
<rect x="574" y="411" width="4" height="4" fill="#000"/>
<rect x="574" y="416" width="4" height="4" fill="#000"/>
<rect x="579" y="411" width="5" height="4" fill="#000"/>
<rect x="579" y="416" width="5" height="4" fill="#000"/>
<rect x="585" y="411" width="5" height="4" fill="#000"/>
<rect x="585" y="416" width="5" height="4" fill="#000"/>
<rect x="587" y="412" width="2" height="3" fill="#fff"/>
<rect x="490" y="428" width="101" height="13" fill="#000"/>
<rect x="491" y="429" width="99" height="11" fill="#fff"/>
<rect x="492" y="429" width="5" height="5" fill="#000"/>
<rect x="492" y="435" width="5" height="4" fill="#000"/>
<rect x="498" y="429" width="5" height="5" fill="#000"/>
<rect x="498" y="435" width="5" height="4" fill="#000"/>
<rect x="504" y="429" width="4" height="5" fill="#000"/>
<rect x="504" y="435" width="4" height="4" fill="#000"/>
<rect x="509" y="429" width="5" height="5" fill="#000"/>
<rect x="509" y="435" width="5" height="4" fill="#000"/>
<rect x="515" y="429" width="5" height="5" fill="#000"/>
<rect x="515" y="435" width="5" height="4" fill="#000"/>
<rect x="521" y="429" width="5" height="5" fill="#000"/>
<rect x="521" y="435" width="5" height="4" fill="#000"/>
<rect x="527" y="429" width="4" height="5" fill="#000"/>
<rect x="527" y="435" width="4" height="4" fill="#000"/>
<rect x="532" y="429" width="5" height="5" fill="#000"/>
<rect x="532" y="435" width="5" height="4" fill="#000"/>
<rect x="538" y="429" width="5" height="5" fill="#000"/>
<rect x="538" y="435" width="5" height="4" fill="#000"/>
<rect x="544" y="429" width="5" height="5" fill="#000"/>
<rect x="544" y="435" width="5" height="4" fill="#000"/>
<rect x="550" y="429" width="4" height="5" fill="#000"/>
<rect x="550" y="435" width="4" height="4" fill="#000"/>
<rect x="555" y="429" width="5" height="5" fill="#000"/>
<rect x="555" y="435" width="5" height="4" fill="#000"/>
<rect x="561" y="429" width="5" height="5" fill="#000"/>
<rect x="561" y="435" width="5" height="4" fill="#000"/>
<rect x="567" y="429" width="5" height="5" fill="#000"/>
<rect x="567" y="435" width="5" height="4" fill="#000"/>
<rect x="573" y="429" width="4" height="5" fill="#000"/>
<rect x="573" y="435" width="4" height="4" fill="#000"/>
<rect x="578" y="429" width="5" height="5" fill="#000"/>
<rect x="578" y="435" width="5" height="4" fill="#000"/>
<rect x="584" y="429" width="5" height="5" fill="#000"/>
<rect x="584" y="435" width="5" height="4" fill="#000"/>
<rect x="586" y="430" width="2" height="3" fill="#fff"/>
<rect x="627" y="409" width="78" height="13" fill="#000"/>
<rect x="628" y="410" width="1" height="11" fill="#fff"/>
<rect x="633" y="410" width="1" height="11" fill="#fff"/>
<rect x="639" y="410" width="1" height="11" fill="#fff"/>
<rect x="645" y="410" width="1" height="11" fill="#fff"/>
<rect x="651" y="410" width="1" height="11" fill="#fff"/>
<rect x="657" y="410" width="1" height="11" fill="#fff"/>
<rect x="662" y="410" width="1" height="11" fill="#fff"/>
<rect x="668" y="410" width="1" height="11" fill="#fff"/>
<rect x="674" y="410" width="1" height="11" fill="#fff"/>
<rect x="680" y="410" width="1" height="11" fill="#fff"/>
<rect x="686" y="410" width="1" height="11" fill="#fff"/>
<rect x="692" y="410" width="1" height="11" fill="#fff"/>
<rect x="697" y="410" width="1" height="11" fill="#fff"/>
<rect x="703" y="410" width="1" height="11" fill="#fff"/>
<rect x="628" y="415" width="76" height="1" fill="#fff"/>
<rect x="700" y="411" width="2" height="3" fill="#fff"/>
<rect x="509" y="375" width="34" height="19" rx="3" ry="3" fill="#000"/>
<rect x="511" y="377" width="30" height="15" rx="2" ry="2" fill="#fff"/>
<path d="M522.0,393 L522.0,396 L524.5,405 L524.5,409 L526.5,409 L526.5,405 L529.0,396 L529.0,393 Z" fill="#000" />
<rect x="525" y="392" width="1" height="9" fill="#fff"/>
<rect x="645" y="374" width="35" height="19" rx="3" ry="3" fill="#000"/>
<rect x="647" y="376" width="31" height="15" rx="2" ry="2" fill="#fff"/>
<path d="M659.0,392 L659.0,395 L661.5,405 L661.5,409 L663.5,409 L663.5,405 L666.0,395 L666.0,392 Z" fill="#000" />
<rect x="662" y="391" width="1" height="9" fill="#fff"/>
<rect x="606" y="426" width="36" height="19" rx="3" ry="3" fill="#000"/>
<rect x="608" y="428" width="32" height="15" rx="2" ry="2" fill="#fff"/>
<rect x="591" y="434" width="3" height="2" fill="#000"/>
<rect x="594" y="433" width="6" height="4" fill="#000"/>
<rect x="600" y="432" width="7" height="6" fill="#000"/>
<rect x="603" y="431" width="4" height="1" fill="#000"/>
<rect x="600" y="435" width="9" height="1" fill="#fff"/>
<path d="M787,353 L791,351 L799,361 L795,361 Z" fill="#000" />
<path d="M789.5,353.5 L790.5,353 L797,361 L796,361 Z" fill="#fff" />
<rect x="783" y="361" width="32" height="14" fill="#000"/>
<rect x="784" y="362" width="30" height="12" fill="#fff"/>
<rect x="785" y="363" width="5" height="4" fill="#000"/>
<rect x="785" y="369" width="5" height="4" fill="#000"/>
<rect x="791" y="363" width="5" height="4" fill="#000"/>
<rect x="791" y="369" width="5" height="4" fill="#000"/>
<rect x="797" y="363" width="4" height="4" fill="#000"/>
<rect x="797" y="369" width="4" height="4" fill="#000"/>
<rect x="803" y="363" width="4" height="4" fill="#000"/>
<rect x="803" y="369" width="4" height="4" fill="#000"/>
<rect x="809" y="363" width="4" height="4" fill="#000"/>
<rect x="809" y="369" width="4" height="4" fill="#000"/>
<rect x="810" y="364" width="2" height="2" fill="#fff"/>
<rect x="783" y="376" width="32" height="13" fill="#000"/>
<rect x="784" y="377" width="30" height="11" fill="#fff"/>
<rect x="785" y="377" width="5" height="4" fill="#000"/>
<rect x="785" y="383" width="5" height="4" fill="#000"/>
<rect x="791" y="377" width="5" height="4" fill="#000"/>
<rect x="791" y="383" width="5" height="4" fill="#000"/>
<rect x="797" y="377" width="4" height="4" fill="#000"/>
<rect x="797" y="383" width="4" height="4" fill="#000"/>
<rect x="803" y="377" width="4" height="4" fill="#000"/>
<rect x="803" y="383" width="4" height="4" fill="#000"/>
<rect x="809" y="377" width="4" height="4" fill="#000"/>
<rect x="809" y="383" width="4" height="4" fill="#000"/>
<rect x="810" y="378" width="2" height="2" fill="#fff"/>
<rect x="829" y="373" width="36" height="19" rx="3" ry="3" fill="#000"/>
<rect x="831" y="375" width="32" height="15" rx="2" ry="2" fill="#fff"/>
<path d="M815,380 L819,379.5 L823,379 L828,377.5 L831,377.5 L831,387 L828,387 L823,385 L819,385 L815,384.5 Z" fill="#000" />
<rect x="822" y="382" width="10" height="1" fill="#fff"/>
<rect x="793" y="422" width="24" height="37" fill="#000"/>
<rect x="817" y="417" width="5" height="46" fill="#000"/>
<rect x="820" y="415" width="2" height="51" fill="#000"/>
<rect x="790" y="428" width="3" height="24" fill="#000"/>
<rect x="786" y="430" width="5" height="8" fill="#000"/>
<rect x="787" y="431" width="3" height="6" fill="#fff"/>
<rect x="786" y="442" width="5" height="8" fill="#000"/>
<rect x="787" y="443" width="3" height="6" fill="#fff"/>
<rect x="791" y="438" width="2" height="5" fill="#fff"/>
<rect x="603" y="473" width="112" height="24" fill="#000"/>
<rect x="604" y="474" width="110" height="22" fill="#fff"/>
<rect x="603" y="480" width="112" height="1" fill="#000"/>
<rect x="607" y="476" width="4" height="1" fill="#000"/>
<rect x="606" y="477" width="7" height="2" fill="#000"/>
<rect x="608" y="479" width="2" height="1" fill="#000"/>
<rect x="606" y="483" width="7" height="3" fill="#000"/>
<rect x="616" y="476" width="4" height="1" fill="#000"/>
<rect x="615" y="477" width="7" height="2" fill="#000"/>
<rect x="617" y="479" width="2" height="1" fill="#000"/>
<rect x="615" y="483" width="7" height="3" fill="#000"/>
<rect x="625" y="476" width="4" height="1" fill="#000"/>
<rect x="624" y="477" width="7" height="2" fill="#000"/>
<rect x="626" y="479" width="2" height="1" fill="#000"/>
<rect x="624" y="483" width="7" height="3" fill="#000"/>
<rect x="634" y="476" width="4" height="1" fill="#000"/>
<rect x="633" y="477" width="7" height="2" fill="#000"/>
<rect x="635" y="479" width="2" height="1" fill="#000"/>
<rect x="633" y="483" width="7" height="3" fill="#000"/>
<rect x="643" y="476" width="4" height="1" fill="#000"/>
<rect x="642" y="477" width="7" height="2" fill="#000"/>
<rect x="644" y="479" width="2" height="1" fill="#000"/>
<rect x="642" y="483" width="7" height="3" fill="#000"/>
<rect x="652" y="476" width="4" height="1" fill="#000"/>
<rect x="651" y="477" width="7" height="2" fill="#000"/>
<rect x="653" y="479" width="2" height="1" fill="#000"/>
<rect x="651" y="483" width="7" height="3" fill="#000"/>
<rect x="661" y="476" width="4" height="1" fill="#000"/>
<rect x="660" y="477" width="7" height="2" fill="#000"/>
<rect x="662" y="479" width="2" height="1" fill="#000"/>
<rect x="660" y="483" width="7" height="3" fill="#000"/>
<rect x="671" y="476" width="4" height="1" fill="#000"/>
<rect x="670" y="477" width="7" height="2" fill="#000"/>
<rect x="672" y="479" width="2" height="1" fill="#000"/>
<rect x="670" y="483" width="7" height="3" fill="#000"/>
<rect x="680" y="476" width="4" height="1" fill="#000"/>
<rect x="679" y="477" width="7" height="2" fill="#000"/>
<rect x="681" y="479" width="2" height="1" fill="#000"/>
<rect x="679" y="483" width="7" height="3" fill="#000"/>
<rect x="689" y="476" width="4" height="1" fill="#000"/>
<rect x="688" y="477" width="7" height="2" fill="#000"/>
<rect x="690" y="479" width="2" height="1" fill="#000"/>
<rect x="688" y="483" width="7" height="3" fill="#000"/>
<rect x="698" y="476" width="4" height="1" fill="#000"/>
<rect x="697" y="477" width="7" height="2" fill="#000"/>
<rect x="699" y="479" width="2" height="1" fill="#000"/>
<rect x="697" y="483" width="7" height="3" fill="#000"/>
<rect x="707" y="476" width="4" height="1" fill="#000"/>
<rect x="706" y="477" width="7" height="2" fill="#000"/>
<rect x="708" y="479" width="2" height="1" fill="#000"/>
<rect x="706" y="483" width="7" height="3" fill="#000"/>
<rect x="609" y="487" width="7" height="7" fill="#000"/>
<rect x="610" y="488" width="5" height="5" fill="#fff"/>
<rect x="618" y="487" width="7" height="7" fill="#000"/>
<rect x="619" y="488" width="5" height="5" fill="#fff"/>
<rect x="627" y="487" width="7" height="7" fill="#000"/>
<rect x="628" y="488" width="5" height="5" fill="#fff"/>
<rect x="636" y="487" width="7" height="7" fill="#000"/>
<rect x="637" y="488" width="5" height="5" fill="#fff"/>
<rect x="646" y="487" width="7" height="7" fill="#000"/>
<rect x="647" y="488" width="5" height="5" fill="#fff"/>
<rect x="655" y="487" width="7" height="7" fill="#000"/>
<rect x="656" y="488" width="5" height="5" fill="#fff"/>
<rect x="664" y="487" width="7" height="7" fill="#000"/>
<rect x="665" y="488" width="5" height="5" fill="#fff"/>
<rect x="673" y="487" width="7" height="7" fill="#000"/>
<rect x="674" y="488" width="5" height="5" fill="#fff"/>
<rect x="682" y="487" width="7" height="7" fill="#000"/>
<rect x="683" y="488" width="5" height="5" fill="#fff"/>
<rect x="691" y="487" width="7" height="7" fill="#000"/>
<rect x="692" y="488" width="5" height="5" fill="#fff"/>
<rect x="700" y="487" width="7" height="7" fill="#000"/>
<rect x="701" y="488" width="5" height="5" fill="#fff"/>
<rect x="710" y="487" width="4" height="7" fill="#000"/>
<rect x="711" y="488" width="3" height="5" fill="#fff"/>
<rect x="604" y="487" width="2" height="7" fill="#000"/>
<rect x="604" y="489" width="1" height="3" fill="#fff"/>
<rect x="712" y="487" width="2" height="7" fill="#000"/>
<rect x="713" y="489" width="1" height="3" fill="#fff"/>
<path d="M381,476 L383,476 L383,478 L389.5,485.5 L389.5,489.5 L388,489.5 L379.5,481 L378,481 L378,479 Z" fill="#000" />
<path d="M381,502 L383,502 L383,500 L389.5,492.5 L389.5,488.5 L388,488.5 L379.5,497 L378,497 L378,499 Z" fill="#000" />
<path d="M457,476 L455,476 L455,478 L448.5,485.5 L448.5,489.5 L450,489.5 L458.5,481 L460,481 L460,479 Z" fill="#000" />
<path d="M457,502 L455,502 L455,500 L448.5,492.5 L448.5,488.5 L450,488.5 L458.5,497 L460,497 L460,499 Z" fill="#000" />
<rect x="389" y="483" width="19" height="12" fill="#000"/>
<rect x="409" y="483" width="20" height="12" fill="#000"/>
<rect x="430" y="483" width="19" height="12" fill="#000"/>
<rect x="390" y="484" width="4" height="1" fill="#fff"/>
<rect x="390" y="487" width="4" height="1" fill="#fff"/>
<rect x="390" y="484" width="1" height="4" fill="#fff"/>
<rect x="393" y="484" width="1" height="4" fill="#fff"/>
<rect x="390" y="490" width="4" height="1" fill="#fff"/>
<rect x="390" y="493" width="4" height="1" fill="#fff"/>
<rect x="390" y="490" width="1" height="4" fill="#fff"/>
<rect x="393" y="490" width="1" height="4" fill="#fff"/>
<rect x="395" y="484" width="1" height="4" fill="#fff"/>
<rect x="401" y="484" width="1" height="4" fill="#fff"/>
<rect x="395" y="490" width="1" height="4" fill="#fff"/>
<rect x="401" y="490" width="1" height="4" fill="#fff"/>
<rect x="390" y="489" width="17" height="1" fill="#fff"/>
<rect x="410" y="484" width="1" height="4" fill="#fff"/>
<rect x="411" y="484" width="4" height="1" fill="#fff"/>
<rect x="411" y="487" width="4" height="1" fill="#fff"/>
<rect x="411" y="484" width="1" height="4" fill="#fff"/>
<rect x="414" y="484" width="1" height="4" fill="#fff"/>
<rect x="416" y="484" width="1" height="4" fill="#fff"/>
<rect x="421" y="484" width="1" height="4" fill="#fff"/>
<rect x="427" y="484" width="1" height="4" fill="#fff"/>
<rect x="410" y="489" width="18" height="1" fill="#fff"/>
<rect x="410" y="490" width="1" height="4" fill="#fff"/>
<rect x="411" y="490" width="4" height="1" fill="#fff"/>
<rect x="411" y="493" width="4" height="1" fill="#fff"/>
<rect x="411" y="490" width="1" height="4" fill="#fff"/>
<rect x="414" y="490" width="1" height="4" fill="#fff"/>
<rect x="427" y="490" width="1" height="4" fill="#fff"/>
<rect x="418" y="489" width="2" height="1" fill="#000"/>
<rect x="431" y="484" width="4" height="1" fill="#fff"/>
<rect x="431" y="487" width="4" height="1" fill="#fff"/>
<rect x="431" y="484" width="1" height="4" fill="#fff"/>
<rect x="434" y="484" width="1" height="4" fill="#fff"/>
<rect x="431" y="490" width="4" height="1" fill="#fff"/>
<rect x="431" y="493" width="4" height="1" fill="#fff"/>
<rect x="431" y="490" width="1" height="4" fill="#fff"/>
<rect x="434" y="490" width="1" height="4" fill="#fff"/>
<rect x="436" y="484" width="1" height="4" fill="#fff"/>
<rect x="442" y="484" width="1" height="4" fill="#fff"/>
<rect x="436" y="490" width="1" height="4" fill="#fff"/>
<rect x="442" y="490" width="1" height="4" fill="#fff"/>
<rect x="431" y="489" width="17" height="1" fill="#fff"/>
<path d="M415.5,513 L418.5,495 L420.5,495 L423.5,513 Z" fill="#000" />
<rect x="348" y="462" width="35" height="19" rx="3" ry="3" fill="#000"/>
<rect x="350" y="464" width="31" height="15" rx="2" ry="2" fill="#fff"/>
<rect x="348" y="498" width="35" height="18" rx="3" ry="3" fill="#000"/>
<rect x="350" y="500" width="31" height="14" rx="2" ry="2" fill="#fff"/>
<rect x="455" y="462" width="34" height="19" rx="3" ry="3" fill="#000"/>
<rect x="457" y="464" width="30" height="15" rx="2" ry="2" fill="#fff"/>
<rect x="455" y="498" width="35" height="18" rx="3" ry="3" fill="#000"/>
<rect x="457" y="500" width="31" height="14" rx="2" ry="2" fill="#fff"/>
<rect x="402" y="449" width="34" height="17" rx="3" ry="3" fill="#000"/>
<rect x="404" y="451" width="30" height="13" rx="2" ry="2" fill="#fff"/>
<path d="M416.5,465 L416.5,468 L418.5,479 L418.5,483 L420.5,483 L420.5,479 L422.5,468 L422.5,465 Z" fill="#000" />
<rect x="419" y="464" width="1" height="9" fill="#fff"/>
<rect x="403" y="511" width="34" height="18" rx="3" ry="3" fill="#000"/>
<rect x="405" y="513" width="30" height="14" rx="2" ry="2" fill="#fff"/>
<rect x="419" y="506" width="1" height="7" fill="#fff"/>
<path d="M381,497.3 L386.5,491.3 L387.2,492 L381.7,498 Z" fill="#fff" />
<path d="M457,480.7 L451.5,486.7 L450.8,486 L456.3,480 Z" fill="#fff" />
</g>
<defs><filter id="bin" x="0" y="0" width="100%" height="100%" filterUnits="userSpaceOnUse" color-interpolation-filters="sRGB">
<feComponentTransfer><feFuncA type="discrete" tableValues="0 1"/></feComponentTransfer></filter></defs>
<g text-anchor="middle" filter="url(#bin)">
<text transform="translate(167.25,197.0) scale(1.02,1)" font-size="15" fill="#fff">A</text>
<text transform="translate(180.0,197.0) scale(1.02,1)" font-size="15" fill="#fff">M</text>
<text transform="translate(192.75,197.0) scale(1.02,1)" font-size="15" fill="#fff">P</text>
<text transform="translate(123.0,119.5) scale(0.72,1)" font-size="14.3" fill="#000">C</text>
<text transform="translate(133.75,120.0) scale(0.75,1)" font-size="14.3" fill="#000">P</text>
<text transform="translate(144.0,119.5) scale(0.78,1)" font-size="14.3" fill="#000">U</text>
<text transform="translate(295.0,125.0) scale(0.72,1)" font-size="13.8" fill="#000">C</text>
<text transform="translate(303.0,125.0) scale(0.76,1)" font-size="13.8" fill="#000">A</text>
<text transform="translate(312.0,125.0) scale(0.72,1)" font-size="13.8" fill="#000">C</text>
<text transform="translate(322.0,125.0) scale(0.78,1)" font-size="13.8" fill="#000">H</text>
<text transform="translate(331.625,125.0) scale(0.74,1)" font-size="13.8" fill="#000">E</text>
<text transform="translate(614.375,62.0) scale(0.8,1)" font-size="12.5" fill="#000">M</text>
<text transform="translate(623.75,62.0) scale(0.8,1)" font-size="12.5" fill="#000">H</text>
<text transform="translate(631.0,61.5) scale(0.8,1)" font-size="12.5" fill="#000">2</text>
<text transform="translate(637.5,62.0) scale(0.8,1)" font-size="12.5" fill="#000">0</text>
<text transform="translate(645.0,62.0) scale(0.8,1)" font-size="12.5" fill="#000">8</text>
<text transform="translate(651.0,61.5) scale(0.8,1)" font-size="12.5" fill="#000">2</text>
<text transform="translate(579.375,83.0) scale(0.78,1)" font-size="13.3" fill="#000">S</text>
<text transform="translate(588.0,83.0) scale(0.82,1)" font-size="13.3" fill="#000">L</text>
<text transform="translate(596.375,83.0) scale(0.65,1)" font-size="13.3" fill="#000">1</text>
<text transform="translate(579.375,128.0) scale(0.78,1)" font-size="13.3" fill="#000">S</text>
<text transform="translate(588.0,128.0) scale(0.82,1)" font-size="13.3" fill="#000">L</text>
<text transform="translate(596.625,127.5) scale(0.85,1)" font-size="13.3" fill="#000">2</text>
<text transform="translate(579.375,171.0) scale(0.78,1)" font-size="13.3" fill="#000">S</text>
<text transform="translate(588.0,171.0) scale(0.82,1)" font-size="13.3" fill="#000">L</text>
<text transform="translate(596.625,170.5) scale(0.85,1)" font-size="13.3" fill="#000">3</text>
<text transform="translate(764.0,349.5) scale(0.72,1)" font-size="13.5" fill="#000">C</text>
<text transform="translate(774.125,350.0) scale(0.85,1)" font-size="13.5" fill="#000">N</text>
<text transform="translate(783.375,349.5) scale(0.85,1)" font-size="13.5" fill="#000">2</text>
<text transform="translate(27.25,338.0) scale(0.72,1)" font-size="14" fill="#000">J</text>
<text transform="translate(34.25,338.0) scale(0.65,1)" font-size="14" fill="#000">1</text>
<text transform="translate(27.25,359.0) scale(0.72,1)" font-size="14" fill="#000">J</text>
<text transform="translate(34.5,359.0) scale(0.85,1)" font-size="14" fill="#000">2</text>
<text transform="translate(27.25,385.0) scale(0.72,1)" font-size="14" fill="#000">J</text>
<text transform="translate(35.5,385.0) scale(0.85,1)" font-size="14" fill="#000">3</text>
<text transform="translate(27.25,408.0) scale(0.72,1)" font-size="14" fill="#000">J</text>
<text transform="translate(35.25,408.5) scale(0.8,1)" font-size="14" fill="#000">4</text>
<text transform="translate(27.25,429.0) scale(0.72,1)" font-size="14" fill="#000">J</text>
<text transform="translate(35.25,429.0) scale(0.85,1)" font-size="14" fill="#000">5</text>
<text transform="translate(27.25,449.0) scale(0.72,1)" font-size="14" fill="#000">J</text>
<text transform="translate(35.5,449.0) scale(0.85,1)" font-size="14" fill="#000">6</text>
<text transform="translate(14.25,471.0) scale(0.72,1)" font-size="14" fill="#000">J</text>
<text transform="translate(23.75,471.0) scale(0.75,1)" font-size="14" fill="#000">P</text>
<text transform="translate(31.75,470.5) scale(0.8,1)" font-size="14" fill="#000">7</text>
<text transform="translate(202.375,382.5) scale(0.7,1)" font-size="13.6" fill="#000">B</text>
<text transform="translate(211.0,383.0) scale(0.76,1)" font-size="13.6" fill="#000">A</text>
<text transform="translate(220.125,382.5) scale(0.85,1)" font-size="13.6" fill="#000">N</text>
<text transform="translate(229.5,383.0) scale(0.8,1)" font-size="13.6" fill="#000">K</text>
<text transform="translate(242.5,383.0) scale(0.8,1)" font-size="13.6" fill="#000">0</text>
<text transform="translate(203.375,447.5) scale(0.7,1)" font-size="13.6" fill="#000">B</text>
<text transform="translate(212.0,448.0) scale(0.76,1)" font-size="13.6" fill="#000">A</text>
<text transform="translate(221.125,447.5) scale(0.85,1)" font-size="13.6" fill="#000">N</text>
<text transform="translate(230.5,448.0) scale(0.8,1)" font-size="13.6" fill="#000">K</text>
<text transform="translate(243.375,448.0) scale(0.65,1)" font-size="13.6" fill="#000">1</text>
<text transform="translate(516.0,387.0) scale(0.72,1)" font-size="13.6" fill="#000">C</text>
<text transform="translate(526.125,386.5) scale(0.85,1)" font-size="13.6" fill="#000">N</text>
<text transform="translate(534.25,387.0) scale(0.8,1)" font-size="13.6" fill="#000">4</text>
<text transform="translate(653.0,387.0) scale(0.72,1)" font-size="13.6" fill="#000">C</text>
<text transform="translate(662.125,386.5) scale(0.85,1)" font-size="13.6" fill="#000">N</text>
<text transform="translate(670.375,386.5) scale(0.85,1)" font-size="13.6" fill="#000">3</text>
<text transform="translate(614.75,438.0) scale(0.72,1)" font-size="13" fill="#000">C</text>
<text transform="translate(624.0,438.0) scale(0.85,1)" font-size="13" fill="#000">N</text>
<text transform="translate(633.25,438.0) scale(0.85,1)" font-size="13" fill="#000">5</text>
<text transform="translate(838.0,386.0) scale(0.72,1)" font-size="13.6" fill="#000">C</text>
<text transform="translate(848.125,385.5) scale(0.85,1)" font-size="13.6" fill="#000">N</text>
<text transform="translate(857.375,386.0) scale(0.65,1)" font-size="13.6" fill="#000">1</text>
<text transform="translate(356.25,475.0) scale(0.72,1)" font-size="14" fill="#000">J</text>
<text transform="translate(364.75,475.0) scale(0.75,1)" font-size="14" fill="#000">P</text>
<text transform="translate(372.25,475.0) scale(0.85,1)" font-size="14" fill="#000">5</text>
<text transform="translate(356.25,511.0) scale(0.72,1)" font-size="14" fill="#000">J</text>
<text transform="translate(364.75,511.0) scale(0.75,1)" font-size="14" fill="#000">P</text>
<text transform="translate(372.5,511.0) scale(0.85,1)" font-size="14" fill="#000">6</text>
<text transform="translate(463.25,475.0) scale(0.72,1)" font-size="14" fill="#000">J</text>
<text transform="translate(471.75,475.0) scale(0.75,1)" font-size="14" fill="#000">P</text>
<text transform="translate(480.25,475.0) scale(0.65,1)" font-size="14" fill="#000">1</text>
<text transform="translate(463.25,511.0) scale(0.72,1)" font-size="14" fill="#000">J</text>
<text transform="translate(471.75,511.0) scale(0.75,1)" font-size="14" fill="#000">P</text>
<text transform="translate(479.5,511.0) scale(0.85,1)" font-size="14" fill="#000">2</text>
<text transform="translate(409.25,462.0) scale(0.72,1)" font-size="14" fill="#000">J</text>
<text transform="translate(418.75,462.0) scale(0.75,1)" font-size="14" fill="#000">P</text>
<text transform="translate(426.5,462.0) scale(0.85,1)" font-size="14" fill="#000">3</text>
<text transform="translate(410.25,524.0) scale(0.72,1)" font-size="14" fill="#000">J</text>
<text transform="translate(418.75,524.0) scale(0.75,1)" font-size="14" fill="#000">P</text>
<text transform="translate(427.25,523.5) scale(0.8,1)" font-size="14" fill="#000">4</text>
</g>
</svg></body></html>
